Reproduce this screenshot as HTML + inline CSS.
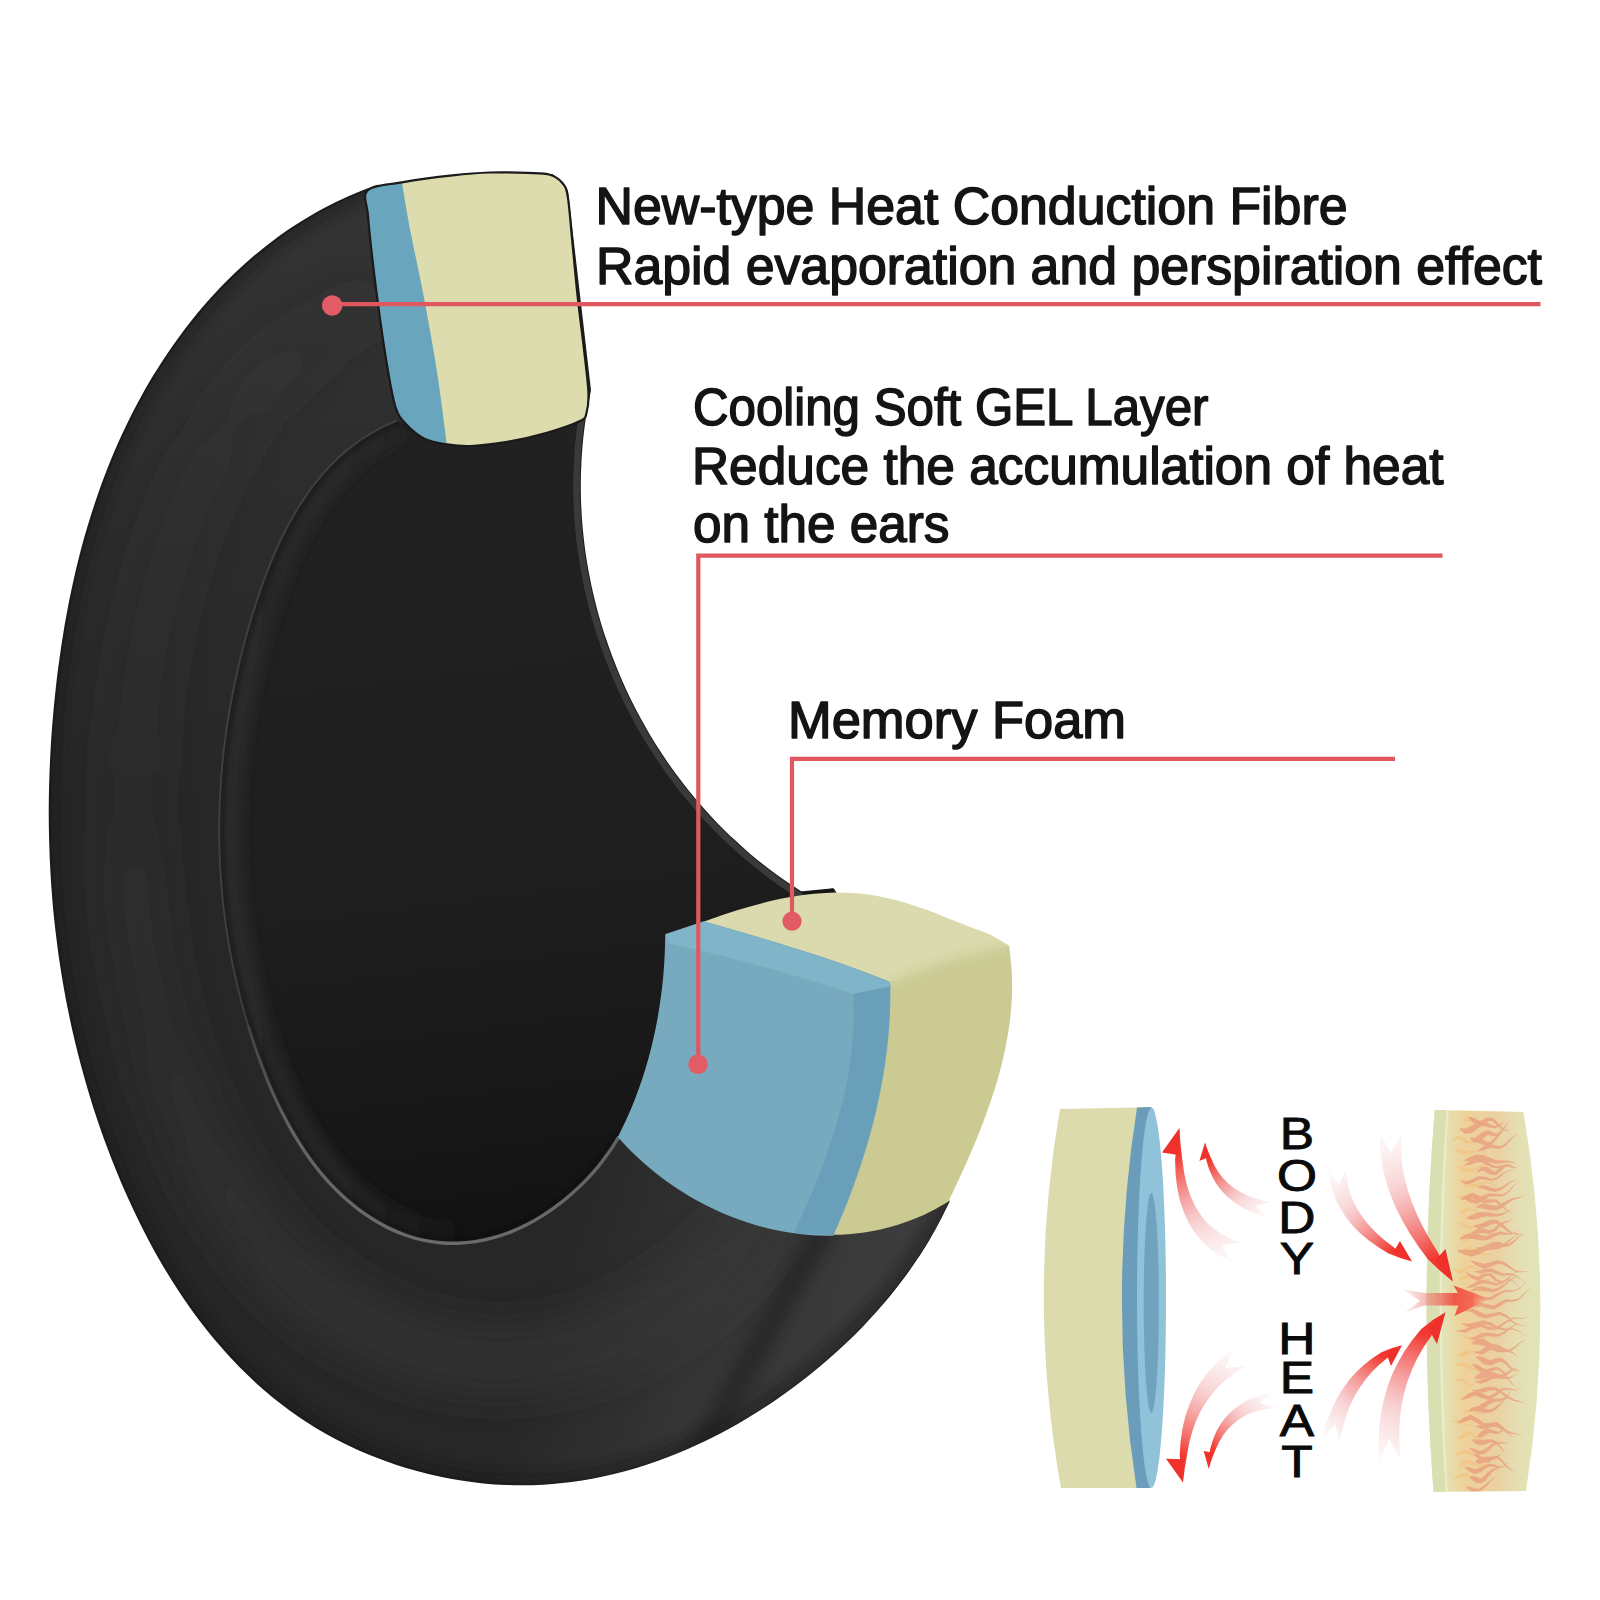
<!DOCTYPE html>
<html lang="en">
<head>
<meta charset="utf-8">
<title>Cooling gel ear pad layers</title>
<style>
html,body{margin:0;padding:0;background:#fff;}
body{width:1600px;height:1600px;overflow:hidden;position:relative;font-family:"Liberation Sans",sans-serif;}
svg{position:absolute;left:0;top:0;display:block;}
.lbl{font-family:"Liberation Sans",sans-serif;font-size:51px;fill:#141414;stroke:#141414;stroke-width:1.5px;stroke-linejoin:round;}
.vt{font-family:"Liberation Sans",sans-serif;font-size:44px;fill:#0a0a0a;stroke:#0a0a0a;stroke-width:0.9px;text-anchor:middle;}
.rl{fill:none;stroke:#e0575f;stroke-width:4.2;}
.rd{fill:#e25c66;}
</style>
</head>
<body>
<svg width="1600" height="1600" viewBox="0 0 1600 1600">
<defs>
  <clipPath id="cFull"><path d="M367.5 189.4C364.0 190.8 353.5 195.0 346.6 198.1C339.8 201.1 333.1 204.4 326.5 207.9C319.9 211.3 313.5 215.0 307.2 218.8C300.8 222.6 294.6 226.6 288.5 230.7C282.4 234.9 276.5 239.2 270.6 243.7C264.8 248.1 259.1 252.8 253.5 257.5C247.9 262.3 242.5 267.2 237.1 272.2C231.8 277.3 226.6 282.4 221.5 287.7C216.4 293.0 211.4 298.5 206.6 304.0C201.8 309.5 197.0 315.2 192.5 320.9C187.9 326.7 183.4 332.6 179.1 338.5C174.7 344.5 170.5 350.6 166.4 356.7C162.3 362.8 158.4 369.1 154.5 375.4C150.7 381.7 146.9 388.1 143.4 394.5C139.8 401.0 136.3 407.5 132.9 414.1C129.6 420.6 126.4 427.3 123.3 434.0C120.2 440.6 117.2 447.4 114.3 454.2C111.5 461.0 108.7 467.8 106.1 474.7C103.4 481.6 100.9 488.5 98.5 495.5C96.1 502.5 93.8 509.5 91.6 516.5C89.3 523.6 87.2 530.7 85.2 537.8C83.2 544.9 81.3 552.1 79.5 559.3C77.7 566.5 76.0 573.7 74.4 580.9C72.8 588.2 71.2 595.4 69.8 602.7C68.4 610.0 67.0 617.3 65.7 624.6C64.5 632.0 63.3 639.3 62.2 646.6C61.1 654.0 60.1 661.4 59.1 668.7C58.1 676.1 57.3 683.5 56.5 690.8C55.7 698.2 54.9 705.6 54.3 713.0C53.6 720.4 53.0 727.8 52.5 735.1C52.0 742.5 51.5 749.9 51.2 757.3C50.8 764.7 50.5 772.1 50.3 779.4C50.0 786.8 49.9 794.2 49.8 801.6C49.7 808.9 49.7 816.3 49.8 823.7C49.9 831.0 50.0 838.4 50.3 845.7C50.5 853.1 50.8 860.4 51.2 867.8C51.6 875.1 52.0 882.5 52.6 889.8C53.1 897.1 53.7 904.4 54.4 911.7C55.1 919.1 55.9 926.4 56.8 933.6C57.7 940.9 58.6 948.2 59.6 955.5C60.7 962.8 61.8 970.0 63.0 977.3C64.2 984.5 65.5 991.8 66.8 999.0C68.2 1006.2 69.7 1013.4 71.2 1020.6C72.7 1027.8 74.4 1035.0 76.1 1042.1C77.8 1049.3 79.6 1056.5 81.5 1063.6C83.4 1070.7 85.4 1077.9 87.5 1085.0C89.5 1092.1 91.7 1099.1 93.9 1106.2C96.2 1113.3 98.5 1120.3 101.0 1127.3C103.4 1134.4 105.9 1141.4 108.6 1148.4C111.2 1155.3 113.9 1162.3 116.7 1169.2C119.5 1176.2 122.4 1183.1 125.4 1189.9C128.5 1196.8 131.6 1203.6 134.8 1210.4C138.0 1217.2 141.3 1223.9 144.7 1230.6C148.1 1237.3 151.6 1243.9 155.2 1250.4C158.9 1256.9 162.6 1263.4 166.4 1269.8C170.3 1276.2 174.2 1282.5 178.3 1288.7C182.3 1294.9 186.5 1301.0 190.8 1307.1C195.1 1313.1 199.4 1319.0 204.0 1324.8C208.5 1330.6 213.1 1336.4 217.9 1341.9C222.6 1347.5 227.5 1353.0 232.5 1358.3C237.4 1363.6 242.6 1368.9 247.8 1373.9C253.0 1379.0 258.4 1383.9 263.9 1388.7C269.3 1393.4 275.0 1398.1 280.7 1402.5C286.4 1407.0 292.3 1411.3 298.3 1415.4C304.3 1419.5 310.5 1423.5 316.7 1427.3C323.0 1431.0 329.3 1434.6 335.8 1438.1C342.3 1441.5 348.9 1444.7 355.6 1447.8C362.3 1450.9 369.1 1453.7 375.9 1456.4C382.8 1459.1 389.7 1461.6 396.8 1464.0C403.8 1466.3 410.9 1468.4 418.0 1470.3C425.1 1472.3 432.3 1474.0 439.6 1475.5C446.8 1477.1 454.1 1478.4 461.4 1479.6C468.7 1480.7 476.0 1481.6 483.4 1482.4C490.7 1483.1 498.1 1483.6 505.5 1483.9C512.8 1484.3 520.2 1484.4 527.6 1484.3C534.9 1484.2 542.3 1483.8 549.6 1483.3C556.9 1482.8 564.3 1482.0 571.5 1481.1C578.8 1480.1 586.1 1478.9 593.3 1477.6C600.5 1476.2 607.7 1474.6 614.8 1472.9C622.0 1471.1 629.1 1469.2 636.1 1467.1C643.2 1464.9 650.2 1462.6 657.2 1460.1C664.1 1457.7 671.1 1455.0 677.9 1452.2C684.8 1449.4 691.6 1446.4 698.3 1443.2C705.1 1440.1 711.7 1436.8 718.4 1433.4C725.0 1429.9 731.5 1426.3 738.0 1422.6C744.5 1418.9 750.9 1415.0 757.2 1411.0C763.5 1407.0 769.8 1402.9 775.9 1398.6C782.1 1394.4 788.2 1390.0 794.2 1385.5C800.2 1381.1 806.1 1376.5 811.9 1371.8C817.7 1367.1 823.4 1362.3 829.0 1357.3C834.6 1352.4 840.1 1347.4 845.5 1342.3C850.9 1337.2 856.2 1332.0 861.3 1326.7C866.5 1321.3 871.5 1315.9 876.4 1310.4C881.3 1304.9 886.1 1299.3 890.7 1293.6C895.3 1287.9 899.8 1282.1 904.2 1276.2C908.5 1270.4 912.7 1264.4 916.7 1258.3C920.8 1252.3 924.6 1246.1 928.3 1239.9C932.0 1233.7 935.6 1227.3 938.9 1220.9C942.3 1214.5 946.9 1204.7 948.5 1201.5L889 985L833.4 889.4L803 893.7C799.9 891.7 790.5 885.7 784.4 881.4C778.3 877.2 772.3 872.8 766.5 868.3C760.6 863.8 754.9 859.1 749.3 854.4C743.6 849.6 738.2 844.7 732.8 839.6C727.4 834.6 722.2 829.4 717.0 824.1C711.9 818.9 706.9 813.4 702.1 807.9C697.2 802.4 692.5 796.8 687.9 791.1C683.3 785.4 678.8 779.5 674.5 773.6C670.1 767.7 665.9 761.6 661.9 755.5C657.8 749.4 653.9 743.2 650.1 736.9C646.3 730.6 642.7 724.2 639.2 717.8C635.7 711.3 632.3 704.8 629.1 698.2C625.9 691.6 622.9 684.9 620.0 678.1C617.0 671.4 614.3 664.6 611.7 657.7C609.1 650.8 606.6 643.9 604.3 636.9C602.0 630.0 599.9 622.9 597.9 615.9C595.9 608.8 594.1 601.7 592.4 594.5C590.7 587.3 589.2 580.1 587.9 572.9C586.5 565.7 585.4 558.4 584.3 551.1C583.3 543.9 582.5 536.5 581.8 529.2C581.1 521.9 580.6 514.5 580.3 507.2C579.9 499.8 579.8 492.4 579.8 485.1C579.8 477.7 580.0 470.3 580.4 462.9C580.7 455.5 581.3 448.2 582.0 440.8C582.7 433.4 584.2 422.4 584.7 418.7L590 390L567 191L552 175Z"/></clipPath>
  <clipPath id="cTop"><path d="M367.7 190.3C373.3 184.8 387.8 184.8 401.9 182.3C416.0 179.8 437.8 176.9 452.5 175.3C467.2 173.7 477.5 172.9 490.0 172.5C502.5 172.1 517.5 172.5 527.5 172.9C537.5 173.3 544.2 173.0 550.0 174.7C555.8 176.3 559.2 179.1 562.2 182.8C565.2 186.5 566.1 186.8 567.8 196.9C569.5 207.1 570.8 226.5 572.5 243.7C574.2 260.9 576.1 282.8 578.0 300.0C579.9 317.2 582.0 331.6 583.7 346.9C585.4 362.2 587.9 381.0 588.4 391.9C588.9 402.8 588.0 407.6 586.6 412.5C585.2 417.4 586.8 417.6 580.0 421.0C573.2 424.4 557.9 429.6 546.0 433.0C534.1 436.4 521.2 439.4 508.7 441.6C496.2 443.8 481.3 445.5 471.0 446.0C460.7 446.5 454.7 445.6 446.9 444.4C439.1 443.2 431.3 442.1 424.4 438.7C417.5 435.2 410.3 428.7 405.6 423.7C400.9 418.7 398.8 416.8 396.0 408.7C393.2 400.6 391.4 390.0 388.7 375.0C386.0 360.0 382.6 337.4 380.0 318.7C377.4 299.9 374.8 279.7 372.8 262.5C370.8 245.3 368.9 227.6 368.0 215.6C367.1 203.6 362.1 195.9 367.7 190.3Z"/></clipPath>
  <clipPath id="cCup"><path d="M618.7 1137.0C617.1 1139.5 612.6 1147.0 609.2 1151.8C605.8 1156.7 602.2 1161.6 598.3 1166.3C594.4 1171.0 590.3 1175.6 586.0 1180.1C581.7 1184.5 577.2 1188.9 572.5 1193.0C567.9 1197.2 563.0 1201.2 558.0 1204.9C553.0 1208.7 547.9 1212.3 542.6 1215.6C537.4 1218.9 532.0 1222.0 526.5 1224.8C521.0 1227.6 515.4 1230.1 509.8 1232.3C504.1 1234.5 498.4 1236.4 492.6 1237.9C486.9 1239.5 481.0 1240.7 475.2 1241.6C469.4 1242.4 463.5 1243.0 457.7 1243.2C451.9 1243.4 446.1 1243.2 440.3 1242.7C434.6 1242.2 428.9 1241.4 423.2 1240.2C417.6 1239.0 412.0 1237.4 406.6 1235.5C401.1 1233.6 395.7 1231.4 390.4 1228.9C385.2 1226.4 380.0 1223.5 374.9 1220.5C369.9 1217.4 365.0 1214.1 360.2 1210.6C355.4 1207.0 350.7 1203.2 346.2 1199.3C341.7 1195.3 337.4 1191.1 333.2 1186.8C329.0 1182.5 325.0 1177.9 321.1 1173.3C317.2 1168.7 313.5 1163.9 310.0 1159.0C306.4 1154.1 303.0 1149.0 299.8 1143.9C296.5 1138.7 293.4 1133.5 290.4 1128.1C287.4 1122.8 284.5 1117.3 281.7 1111.8C279.0 1106.3 276.4 1100.7 273.8 1095.1C271.3 1089.4 268.9 1083.7 266.6 1078.0C264.3 1072.3 262.1 1066.5 260.0 1060.7C257.8 1054.9 255.8 1049.1 253.9 1043.3C251.9 1037.5 250.0 1031.6 248.3 1025.8C246.5 1020.0 244.8 1014.1 243.2 1008.3C241.5 1002.4 240.0 996.5 238.6 990.6C237.1 984.8 235.8 978.9 234.5 973.0C233.2 967.1 232.0 961.2 230.9 955.3C229.8 949.4 228.7 943.5 227.8 937.5C226.8 931.6 225.9 925.7 225.2 919.8C224.4 913.8 223.6 907.9 223.0 902.0C222.4 896.0 221.8 890.1 221.4 884.1C220.9 878.2 220.5 872.2 220.2 866.3C219.9 860.3 219.6 854.4 219.5 848.4C219.3 842.4 219.2 836.5 219.2 830.5C219.2 824.5 219.3 818.6 219.5 812.6C219.6 806.7 219.9 800.7 220.2 794.7C220.5 788.8 220.9 782.8 221.3 776.8C221.8 770.9 222.3 764.9 222.9 759.0C223.5 753.0 224.2 747.0 225.0 741.1C225.8 735.1 226.6 729.2 227.5 723.2C228.4 717.3 229.4 711.4 230.5 705.4C231.5 699.5 232.7 693.6 233.9 687.6C235.1 681.7 236.4 675.8 237.7 669.9C239.1 664.0 240.5 658.0 242.0 652.1C243.5 646.2 245.1 640.4 246.7 634.5C248.3 628.6 250.1 622.7 251.8 616.8C253.6 611.0 255.5 605.1 257.4 599.3C259.3 593.4 261.3 587.6 263.4 581.8C265.5 576.0 267.7 570.3 270.0 564.6C272.3 558.9 274.7 553.3 277.2 547.7C279.7 542.2 282.3 536.7 285.1 531.3C287.8 525.9 290.7 520.6 293.7 515.4C296.7 510.2 299.8 505.1 303.1 500.2C306.3 495.2 309.7 490.4 313.3 485.7C316.9 481.0 320.6 476.5 324.5 472.1C328.4 467.7 332.5 463.5 336.7 459.5C341.0 455.4 345.4 451.5 350.0 447.9C354.7 444.2 359.5 440.7 364.5 437.5C369.5 434.2 374.7 431.2 380.1 428.3C385.5 425.5 394.2 421.9 397.0 420.6L446 444L580 421L584.7 418.7C584.2 422.4 582.7 433.4 582.0 440.8C581.3 448.2 580.7 455.5 580.4 462.9C580.0 470.3 579.8 477.7 579.8 485.1C579.8 492.4 579.9 499.8 580.3 507.2C580.6 514.5 581.1 521.9 581.8 529.2C582.5 536.5 583.3 543.9 584.3 551.1C585.4 558.4 586.5 565.7 587.9 572.9C589.2 580.1 590.7 587.3 592.4 594.5C594.1 601.7 595.9 608.8 597.9 615.9C599.9 622.9 602.0 630.0 604.3 636.9C606.6 643.9 609.1 650.8 611.7 657.7C614.3 664.6 617.0 671.4 620.0 678.1C622.9 684.9 625.9 691.6 629.1 698.2C632.3 704.8 635.7 711.3 639.2 717.8C642.7 724.2 646.3 730.6 650.1 736.9C653.9 743.2 657.8 749.4 661.9 755.5C665.9 761.6 670.1 767.7 674.5 773.6C678.8 779.5 683.3 785.4 687.9 791.1C692.5 796.8 697.2 802.4 702.1 807.9C706.9 813.4 711.9 818.9 717.0 824.1C722.2 829.4 727.4 834.6 732.8 839.6C738.2 844.7 743.6 849.6 749.3 854.4C754.9 859.1 760.6 863.8 766.5 868.3C772.3 872.8 778.3 877.2 784.4 881.4C790.5 885.7 799.9 891.7 803.0 893.7L833.4 889.4L704 921.7L666 934.4C665.9 937.9 665.8 948.4 665.4 955.4C665.1 962.3 664.6 969.3 664.0 976.3C663.4 983.3 662.6 990.2 661.6 997.2C660.7 1004.1 659.6 1011.0 658.4 1017.9C657.2 1024.8 655.8 1031.7 654.2 1038.5C652.7 1045.3 651.0 1052.1 649.1 1058.9C647.2 1065.6 645.2 1072.3 643.0 1079.0C640.8 1085.6 638.4 1092.2 635.9 1098.7C633.4 1105.2 630.7 1111.7 627.8 1118.1C624.9 1124.5 620.2 1133.8 618.7 1137.0Z"/></clipPath>
  <linearGradient id="gCup" gradientUnits="userSpaceOnUse" x1="420" y1="450" x2="520" y2="1240">
    <stop offset="0" stop-color="#212121"/>
    <stop offset="0.55" stop-color="#1e1e1e"/>
    <stop offset="0.85" stop-color="#171717"/>
    <stop offset="1" stop-color="#121212"/>
  </linearGradient>
  <linearGradient id="gPad" gradientUnits="userSpaceOnUse" x1="260" y1="200" x2="200" y2="1450">
    <stop offset="0" stop-color="#343434"/>
    <stop offset="0.25" stop-color="#2c2c2c"/>
    <stop offset="0.5" stop-color="#272727"/>
    <stop offset="1" stop-color="#272727"/>
  </linearGradient>
  <linearGradient id="gLow" gradientUnits="userSpaceOnUse" x1="560" y1="1230" x2="900" y2="1330">
    <stop offset="0" stop-color="#333" stop-opacity="0"/>
    <stop offset="0.45" stop-color="#363636" stop-opacity="0.9"/>
    <stop offset="1" stop-color="#3d3d3d" stop-opacity="1"/>
  </linearGradient>
  <linearGradient id="gCrease" gradientUnits="userSpaceOnUse" x1="0" y1="1250" x2="0" y2="980">
    <stop offset="0" stop-color="#6e6e6e" stop-opacity="0.95"/>
    <stop offset="0.45" stop-color="#6a6a6a" stop-opacity="0.85"/>
    <stop offset="1" stop-color="#555" stop-opacity="0"/>
  </linearGradient>
  <linearGradient id="gBand" gradientUnits="userSpaceOnUse" x1="220" y1="0" x2="470" y2="0">
    <stop offset="0" stop-color="#2b2b2b" stop-opacity="0.8"/>
    <stop offset="0.5" stop-color="#2b2b2b" stop-opacity="0.6"/>
    <stop offset="1" stop-color="#2b2b2b" stop-opacity="0"/>
  </linearGradient>
  <clipPath id="cCream"><path d="M704.0 921.7C707.6 920.4 718.3 916.5 725.5 914.0C732.7 911.6 740.0 909.3 747.4 907.2C754.7 905.1 762.1 903.1 769.5 901.3C776.9 899.6 784.3 898.1 791.7 896.8C799.2 895.5 806.7 894.5 814.2 893.8C821.6 893.1 829.1 892.7 836.6 892.6C844.1 892.6 851.6 892.8 859.1 893.5C866.6 894.2 874.0 895.3 881.5 896.7C888.9 898.2 896.3 900.1 903.7 902.3C911.1 904.4 918.4 907.0 925.7 909.6C933.0 912.2 940.2 915.1 947.4 917.9C954.6 920.7 961.7 923.7 968.8 926.4C975.8 929.2 983.0 931.2 989.7 934.4C996.4 937.6 1005.8 943.7 1009.0 945.6C1000.8 947.5 974.8 952.9 960.0 957.0C945.2 961.1 931.7 965.8 920.0 970.0C908.3 974.2 894.8 980.0 889.7 982.0C879.8 978.3 851.6 967.3 830.0 960.0C808.4 952.7 781.0 944.4 760.0 938.0C739.0 931.6 713.3 924.4 704.0 921.7Z"/><path d="M889.7 982.0C894.8 980.0 908.3 974.2 920.0 970.0C931.7 965.8 945.2 961.1 960.0 957.0C974.8 952.9 1000.8 947.5 1009.0 945.6C1009.5 950.0 1011.3 963.4 1011.8 972.2C1012.3 981.1 1012.2 990.0 1011.8 998.8C1011.4 1007.6 1010.5 1016.4 1009.3 1025.2C1008.1 1034.0 1006.5 1042.7 1004.7 1051.4C1002.8 1060.1 1000.6 1068.8 998.2 1077.4C995.8 1086.0 993.0 1094.6 990.1 1103.1C987.2 1111.6 984.1 1120.0 980.8 1128.4C977.6 1136.7 974.1 1145.0 970.6 1153.2C967.1 1161.5 963.4 1169.6 959.7 1177.6C956.0 1185.7 950.4 1197.5 948.5 1201.5C945.8 1203.1 937.6 1208.0 932.1 1210.8C926.6 1213.7 920.9 1216.3 915.3 1218.6C909.6 1220.9 903.8 1223.0 898.0 1224.8C892.2 1226.6 886.4 1228.2 880.5 1229.5C874.6 1230.9 868.7 1231.9 862.8 1232.8C856.8 1233.6 849.9 1234.2 844.9 1234.6C839.9 1235.0 835.0 1234.9 833.0 1235.0C834.7 1231.1 839.9 1219.3 843.1 1211.3C846.4 1203.4 849.5 1195.3 852.4 1187.2C855.4 1179.2 858.3 1171.0 860.9 1162.8C863.6 1154.6 866.1 1146.3 868.5 1138.0C870.8 1129.7 873.0 1121.4 875.0 1113.0C877.0 1104.6 878.8 1096.2 880.4 1087.7C882.0 1079.3 883.5 1070.8 884.7 1062.2C885.9 1053.7 886.9 1045.2 887.7 1036.6C888.5 1028.0 889.1 1019.4 889.4 1010.8C889.7 1002.2 889.7 989.3 889.7 985.0Z"/></clipPath>
  <filter id="b3" x="-20%" y="-20%" width="140%" height="140%"><feGaussianBlur stdDeviation="3.5"/></filter>
  <filter id="b2" x="-20%" y="-20%" width="140%" height="140%"><feGaussianBlur stdDeviation="2"/></filter>
  <filter id="b6" x="-20%" y="-20%" width="140%" height="140%"><feGaussianBlur stdDeviation="6"/></filter>
  <filter id="b20" x="-30%" y="-30%" width="160%" height="160%"><feGaussianBlur stdDeviation="20"/></filter>
  <linearGradient id="gMid" gradientUnits="userSpaceOnUse" x1="0" y1="300" x2="0" y2="1450">
    <stop offset="0" stop-color="#363636" stop-opacity="0.15"/>
    <stop offset="0.6" stop-color="#363636" stop-opacity="0.3"/>
    <stop offset="0.85" stop-color="#363636" stop-opacity="0.6"/>
    <stop offset="1" stop-color="#363636" stop-opacity="0.6"/>
  </linearGradient>
  <filter id="b14" x="-30%" y="-30%" width="160%" height="160%"><feGaussianBlur stdDeviation="14"/></filter>
</defs>

<!-- ear pad -->
<path d="M367.5 189.4C364.0 190.8 353.5 195.0 346.6 198.1C339.8 201.1 333.1 204.4 326.5 207.9C319.9 211.3 313.5 215.0 307.2 218.8C300.8 222.6 294.6 226.6 288.5 230.7C282.4 234.9 276.5 239.2 270.6 243.7C264.8 248.1 259.1 252.8 253.5 257.5C247.9 262.3 242.5 267.2 237.1 272.2C231.8 277.3 226.6 282.4 221.5 287.7C216.4 293.0 211.4 298.5 206.6 304.0C201.8 309.5 197.0 315.2 192.5 320.9C187.9 326.7 183.4 332.6 179.1 338.5C174.7 344.5 170.5 350.6 166.4 356.7C162.3 362.8 158.4 369.1 154.5 375.4C150.7 381.7 146.9 388.1 143.4 394.5C139.8 401.0 136.3 407.5 132.9 414.1C129.6 420.6 126.4 427.3 123.3 434.0C120.2 440.6 117.2 447.4 114.3 454.2C111.5 461.0 108.7 467.8 106.1 474.7C103.4 481.6 100.9 488.5 98.5 495.5C96.1 502.5 93.8 509.5 91.6 516.5C89.3 523.6 87.2 530.7 85.2 537.8C83.2 544.9 81.3 552.1 79.5 559.3C77.7 566.5 76.0 573.7 74.4 580.9C72.8 588.2 71.2 595.4 69.8 602.7C68.4 610.0 67.0 617.3 65.7 624.6C64.5 632.0 63.3 639.3 62.2 646.6C61.1 654.0 60.1 661.4 59.1 668.7C58.1 676.1 57.3 683.5 56.5 690.8C55.7 698.2 54.9 705.6 54.3 713.0C53.6 720.4 53.0 727.8 52.5 735.1C52.0 742.5 51.5 749.9 51.2 757.3C50.8 764.7 50.5 772.1 50.3 779.4C50.0 786.8 49.9 794.2 49.8 801.6C49.7 808.9 49.7 816.3 49.8 823.7C49.9 831.0 50.0 838.4 50.3 845.7C50.5 853.1 50.8 860.4 51.2 867.8C51.6 875.1 52.0 882.5 52.6 889.8C53.1 897.1 53.7 904.4 54.4 911.7C55.1 919.1 55.9 926.4 56.8 933.6C57.7 940.9 58.6 948.2 59.6 955.5C60.7 962.8 61.8 970.0 63.0 977.3C64.2 984.5 65.5 991.8 66.8 999.0C68.2 1006.2 69.7 1013.4 71.2 1020.6C72.7 1027.8 74.4 1035.0 76.1 1042.1C77.8 1049.3 79.6 1056.5 81.5 1063.6C83.4 1070.7 85.4 1077.9 87.5 1085.0C89.5 1092.1 91.7 1099.1 93.9 1106.2C96.2 1113.3 98.5 1120.3 101.0 1127.3C103.4 1134.4 105.9 1141.4 108.6 1148.4C111.2 1155.3 113.9 1162.3 116.7 1169.2C119.5 1176.2 122.4 1183.1 125.4 1189.9C128.5 1196.8 131.6 1203.6 134.8 1210.4C138.0 1217.2 141.3 1223.9 144.7 1230.6C148.1 1237.3 151.6 1243.9 155.2 1250.4C158.9 1256.9 162.6 1263.4 166.4 1269.8C170.3 1276.2 174.2 1282.5 178.3 1288.7C182.3 1294.9 186.5 1301.0 190.8 1307.1C195.1 1313.1 199.4 1319.0 204.0 1324.8C208.5 1330.6 213.1 1336.4 217.9 1341.9C222.6 1347.5 227.5 1353.0 232.5 1358.3C237.4 1363.6 242.6 1368.9 247.8 1373.9C253.0 1379.0 258.4 1383.9 263.9 1388.7C269.3 1393.4 275.0 1398.1 280.7 1402.5C286.4 1407.0 292.3 1411.3 298.3 1415.4C304.3 1419.5 310.5 1423.5 316.7 1427.3C323.0 1431.0 329.3 1434.6 335.8 1438.1C342.3 1441.5 348.9 1444.7 355.6 1447.8C362.3 1450.9 369.1 1453.7 375.9 1456.4C382.8 1459.1 389.7 1461.6 396.8 1464.0C403.8 1466.3 410.9 1468.4 418.0 1470.3C425.1 1472.3 432.3 1474.0 439.6 1475.5C446.8 1477.1 454.1 1478.4 461.4 1479.6C468.7 1480.7 476.0 1481.6 483.4 1482.4C490.7 1483.1 498.1 1483.6 505.5 1483.9C512.8 1484.3 520.2 1484.4 527.6 1484.3C534.9 1484.2 542.3 1483.8 549.6 1483.3C556.9 1482.8 564.3 1482.0 571.5 1481.1C578.8 1480.1 586.1 1478.9 593.3 1477.6C600.5 1476.2 607.7 1474.6 614.8 1472.9C622.0 1471.1 629.1 1469.2 636.1 1467.1C643.2 1464.9 650.2 1462.6 657.2 1460.1C664.1 1457.7 671.1 1455.0 677.9 1452.2C684.8 1449.4 691.6 1446.4 698.3 1443.2C705.1 1440.1 711.7 1436.8 718.4 1433.4C725.0 1429.9 731.5 1426.3 738.0 1422.6C744.5 1418.9 750.9 1415.0 757.2 1411.0C763.5 1407.0 769.8 1402.9 775.9 1398.6C782.1 1394.4 788.2 1390.0 794.2 1385.5C800.2 1381.1 806.1 1376.5 811.9 1371.8C817.7 1367.1 823.4 1362.3 829.0 1357.3C834.6 1352.4 840.1 1347.4 845.5 1342.3C850.9 1337.2 856.2 1332.0 861.3 1326.7C866.5 1321.3 871.5 1315.9 876.4 1310.4C881.3 1304.9 886.1 1299.3 890.7 1293.6C895.3 1287.9 899.8 1282.1 904.2 1276.2C908.5 1270.4 912.7 1264.4 916.7 1258.3C920.8 1252.3 924.6 1246.1 928.3 1239.9C932.0 1233.7 935.6 1227.3 938.9 1220.9C942.3 1214.5 946.9 1204.7 948.5 1201.5L889 985L833.4 889.4L803 893.7C799.9 891.7 790.5 885.7 784.4 881.4C778.3 877.2 772.3 872.8 766.5 868.3C760.6 863.8 754.9 859.1 749.3 854.4C743.6 849.6 738.2 844.7 732.8 839.6C727.4 834.6 722.2 829.4 717.0 824.1C711.9 818.9 706.9 813.4 702.1 807.9C697.2 802.4 692.5 796.8 687.9 791.1C683.3 785.4 678.8 779.5 674.5 773.6C670.1 767.7 665.9 761.6 661.9 755.5C657.8 749.4 653.9 743.2 650.1 736.9C646.3 730.6 642.7 724.2 639.2 717.8C635.7 711.3 632.3 704.8 629.1 698.2C625.9 691.6 622.9 684.9 620.0 678.1C617.0 671.4 614.3 664.6 611.7 657.7C609.1 650.8 606.6 643.9 604.3 636.9C602.0 630.0 599.9 622.9 597.9 615.9C595.9 608.8 594.1 601.7 592.4 594.5C590.7 587.3 589.2 580.1 587.9 572.9C586.5 565.7 585.4 558.4 584.3 551.1C583.3 543.9 582.5 536.5 581.8 529.2C581.1 521.9 580.6 514.5 580.3 507.2C579.9 499.8 579.8 492.4 579.8 485.1C579.8 477.7 580.0 470.3 580.4 462.9C580.7 455.5 581.3 448.2 582.0 440.8C582.7 433.4 584.2 422.4 584.7 418.7L590 390L567 191L552 175Z" fill="url(#gPad)" stroke="#1d1d1d" stroke-width="2" stroke-linejoin="round"/>
<g clip-path="url(#cFull)">
  <path d="M948.5 1201.5C945.8 1203.1 937.6 1208.0 932.1 1210.8C926.6 1213.7 920.9 1216.3 915.3 1218.6C909.6 1220.9 903.8 1223.0 898.0 1224.8C892.2 1226.6 886.4 1228.2 880.5 1229.5C874.6 1230.9 868.7 1231.9 862.8 1232.8C856.8 1233.6 850.9 1234.2 844.9 1234.6C838.9 1235.0 832.9 1235.2 826.9 1235.1C820.9 1235.0 814.9 1234.7 808.9 1234.2C803.0 1233.7 797.0 1233.0 791.0 1232.1C785.1 1231.2 779.1 1230.1 773.2 1228.7C767.3 1227.4 761.5 1225.9 755.7 1224.2C749.9 1222.5 744.1 1220.6 738.4 1218.5C732.7 1216.4 727.0 1214.1 721.4 1211.7C715.8 1209.2 710.3 1206.6 704.9 1203.8C699.5 1201.0 694.1 1198.1 688.9 1195.0C683.6 1191.8 678.5 1188.6 673.4 1185.1C668.4 1181.7 663.4 1178.1 658.6 1174.4C653.8 1170.6 649.1 1166.7 644.5 1162.7C639.9 1158.7 635.5 1154.5 631.2 1150.3C626.9 1146.0 620.8 1139.2 618.7 1137.0C617.1 1139.5 612.6 1147.0 609.2 1151.8C605.8 1156.7 602.2 1161.6 598.3 1166.3C594.4 1171.0 590.3 1175.6 586.0 1180.1C581.7 1184.5 577.2 1188.9 572.5 1193.0C567.9 1197.2 563.0 1201.2 558.0 1204.9C553.0 1208.7 547.9 1212.3 542.6 1215.6C537.4 1218.9 529.2 1223.2 526.5 1224.8L300 1600L1100 1600Z" fill="url(#gLow)"/>
  <path d="M381.7 300.4C375.1 303.6 354.8 312.2 342.2 319.5C329.5 326.8 317.3 335.1 305.9 344.2C294.5 353.2 283.7 363.3 273.6 373.8C263.4 384.3 254.0 395.6 245.2 407.3C236.5 419.0 228.4 431.3 220.9 443.8C213.4 456.4 206.6 469.3 200.2 482.5C193.9 495.7 188.2 509.2 182.9 522.9C177.6 536.5 173.0 550.4 168.6 564.4C164.3 578.4 160.5 592.5 157.0 606.8C153.5 621.0 150.5 635.3 147.8 649.7C145.1 664.1 142.8 678.5 140.8 693.0C138.8 707.5 137.2 722.1 135.9 736.6C134.6 751.2 133.6 765.8 132.9 780.4C132.3 795.0 132.1 809.7 132.2 824.3C132.4 838.9 132.8 853.5 133.7 868.1C134.5 882.7 135.8 897.3 137.4 911.8C139.1 926.3 141.1 940.8 143.6 955.2C146.0 969.6 148.9 984.0 152.1 998.2C155.4 1012.4 159.0 1026.6 163.1 1040.6C167.1 1054.6 171.5 1068.5 176.4 1082.2C181.3 1096.0 186.6 1109.6 192.4 1122.9C198.1 1136.3 204.3 1149.5 211.1 1162.4C217.8 1175.2 225.0 1187.9 232.7 1200.1C240.5 1212.3 248.8 1224.2 257.6 1235.5C266.5 1246.7 276.0 1257.6 286.1 1267.7C296.2 1277.8 306.8 1287.4 318.0 1296.1C329.2 1304.8 341.1 1312.7 353.2 1319.8C365.4 1326.9 378.1 1333.3 391.1 1338.7C404.1 1344.2 417.5 1348.8 431.1 1352.3C444.7 1355.8 458.8 1358.4 472.8 1359.8C486.8 1361.2 501.1 1361.5 515.3 1360.7C529.4 1359.8 543.7 1357.8 557.7 1354.8C571.6 1351.8 585.6 1347.6 599.1 1342.5C612.6 1337.4 625.8 1331.1 638.6 1324.2C651.4 1317.4 663.8 1309.5 675.7 1301.2C687.6 1292.8 699.1 1283.6 710.0 1273.9C720.8 1264.2 731.2 1253.7 740.9 1242.8C750.5 1231.9 759.6 1220.3 767.8 1208.3C776.1 1196.2 786.5 1176.8 790.2 1170.5" fill="none" stroke="url(#gMid)" stroke-width="64" filter="url(#b20)"/>
  <path d="M850 1180L690 1470" fill="none" stroke="#1c1c1c" stroke-width="24" opacity="0.5" filter="url(#b6)"/>
  <path d="M367.5 189.4C364.0 190.8 353.5 195.0 346.6 198.1C339.8 201.1 333.1 204.4 326.5 207.9C319.9 211.3 313.5 215.0 307.2 218.8C300.8 222.6 294.6 226.6 288.5 230.7C282.4 234.9 276.5 239.2 270.6 243.7C264.8 248.1 259.1 252.8 253.5 257.5C247.9 262.3 242.5 267.2 237.1 272.2C231.8 277.3 226.6 282.4 221.5 287.7C216.4 293.0 211.4 298.5 206.6 304.0C201.8 309.5 197.0 315.2 192.5 320.9C187.9 326.7 183.4 332.6 179.1 338.5C174.7 344.5 170.5 350.6 166.4 356.7C162.3 362.8 158.4 369.1 154.5 375.4C150.7 381.7 146.9 388.1 143.4 394.5C139.8 401.0 136.3 407.5 132.9 414.1C129.6 420.6 126.4 427.3 123.3 434.0C120.2 440.6 117.2 447.4 114.3 454.2C111.5 461.0 108.7 467.8 106.1 474.7C103.4 481.6 100.9 488.5 98.5 495.5C96.1 502.5 93.8 509.5 91.6 516.5C89.3 523.6 87.2 530.7 85.2 537.8C83.2 544.9 81.3 552.1 79.5 559.3C77.7 566.5 76.0 573.7 74.4 580.9C72.8 588.2 71.2 595.4 69.8 602.7C68.4 610.0 67.0 617.3 65.7 624.6C64.5 632.0 63.3 639.3 62.2 646.6C61.1 654.0 60.1 661.4 59.1 668.7C58.1 676.1 57.3 683.5 56.5 690.8C55.7 698.2 54.9 705.6 54.3 713.0C53.6 720.4 53.0 727.8 52.5 735.1C52.0 742.5 51.5 749.9 51.2 757.3C50.8 764.7 50.5 772.1 50.3 779.4C50.0 786.8 49.9 794.2 49.8 801.6C49.7 808.9 49.7 816.3 49.8 823.7C49.9 831.0 50.0 838.4 50.3 845.7C50.5 853.1 50.8 860.4 51.2 867.8C51.6 875.1 52.0 882.5 52.6 889.8C53.1 897.1 53.7 904.4 54.4 911.7C55.1 919.1 55.9 926.4 56.8 933.6C57.7 940.9 58.6 948.2 59.6 955.5C60.7 962.8 61.8 970.0 63.0 977.3C64.2 984.5 65.5 991.8 66.8 999.0C68.2 1006.2 69.7 1013.4 71.2 1020.6C72.7 1027.8 74.4 1035.0 76.1 1042.1C77.8 1049.3 79.6 1056.5 81.5 1063.6C83.4 1070.7 85.4 1077.9 87.5 1085.0C89.5 1092.1 91.7 1099.1 93.9 1106.2C96.2 1113.3 98.5 1120.3 101.0 1127.3C103.4 1134.4 105.9 1141.4 108.6 1148.4C111.2 1155.3 113.9 1162.3 116.7 1169.2C119.5 1176.2 122.4 1183.1 125.4 1189.9C128.5 1196.8 131.6 1203.6 134.8 1210.4C138.0 1217.2 141.3 1223.9 144.7 1230.6C148.1 1237.3 151.6 1243.9 155.2 1250.4C158.9 1256.9 162.6 1263.4 166.4 1269.8C170.3 1276.2 174.2 1282.5 178.3 1288.7C182.3 1294.9 186.5 1301.0 190.8 1307.1C195.1 1313.1 199.4 1319.0 204.0 1324.8C208.5 1330.6 213.1 1336.4 217.9 1341.9C222.6 1347.5 227.5 1353.0 232.5 1358.3C237.4 1363.6 242.6 1368.9 247.8 1373.9C253.0 1379.0 258.4 1383.9 263.9 1388.7C269.3 1393.4 275.0 1398.1 280.7 1402.5C286.4 1407.0 292.3 1411.3 298.3 1415.4C304.3 1419.5 310.5 1423.5 316.7 1427.3C323.0 1431.0 329.3 1434.6 335.8 1438.1C342.3 1441.5 348.9 1444.7 355.6 1447.8C362.3 1450.9 369.1 1453.7 375.9 1456.4C382.8 1459.1 389.7 1461.6 396.8 1464.0C403.8 1466.3 410.9 1468.4 418.0 1470.3C425.1 1472.3 432.3 1474.0 439.6 1475.5C446.8 1477.1 454.1 1478.4 461.4 1479.6C468.7 1480.7 476.0 1481.6 483.4 1482.4C490.7 1483.1 498.1 1483.6 505.5 1483.9C512.8 1484.3 520.2 1484.4 527.6 1484.3C534.9 1484.2 542.3 1483.8 549.6 1483.3C556.9 1482.8 564.3 1482.0 571.5 1481.1C578.8 1480.1 586.1 1478.9 593.3 1477.6C600.5 1476.2 607.7 1474.6 614.8 1472.9C622.0 1471.1 629.1 1469.2 636.1 1467.1C643.2 1464.9 650.2 1462.6 657.2 1460.1C664.1 1457.7 671.1 1455.0 677.9 1452.2C684.8 1449.4 691.6 1446.4 698.3 1443.2C705.1 1440.1 711.7 1436.8 718.4 1433.4C725.0 1429.9 731.5 1426.3 738.0 1422.6C744.5 1418.9 750.9 1415.0 757.2 1411.0C763.5 1407.0 769.8 1402.9 775.9 1398.6C782.1 1394.4 788.2 1390.0 794.2 1385.5C800.2 1381.1 806.1 1376.5 811.9 1371.8C817.7 1367.1 823.4 1362.3 829.0 1357.3C834.6 1352.4 840.1 1347.4 845.5 1342.3C850.9 1337.2 856.2 1332.0 861.3 1326.7C866.5 1321.3 871.5 1315.9 876.4 1310.4C881.3 1304.9 886.1 1299.3 890.7 1293.6C895.3 1287.9 899.8 1282.1 904.2 1276.2C908.5 1270.4 912.7 1264.4 916.7 1258.3C920.8 1252.3 924.6 1246.1 928.3 1239.9C932.0 1233.7 935.6 1227.3 938.9 1220.9C942.3 1214.5 946.9 1204.7 948.5 1201.5" fill="none" stroke="#181818" stroke-width="22" opacity="0.4" filter="url(#b6)"/>
  <path d="M618.7 1137.0C617.1 1139.5 612.6 1147.0 609.2 1151.8C605.8 1156.7 602.2 1161.6 598.3 1166.3C594.4 1171.0 590.3 1175.6 586.0 1180.1C581.7 1184.5 577.2 1188.9 572.5 1193.0C567.9 1197.2 563.0 1201.2 558.0 1204.9C553.0 1208.7 547.9 1212.3 542.6 1215.6C537.4 1218.9 532.0 1222.0 526.5 1224.8C521.0 1227.6 515.4 1230.1 509.8 1232.3C504.1 1234.5 498.4 1236.4 492.6 1237.9C486.9 1239.5 481.0 1240.7 475.2 1241.6C469.4 1242.4 463.5 1243.0 457.7 1243.2C451.9 1243.4 446.1 1243.2 440.3 1242.7C434.6 1242.2 428.9 1241.4 423.2 1240.2C417.6 1239.0 412.0 1237.4 406.6 1235.5C401.1 1233.6 395.7 1231.4 390.4 1228.9C385.2 1226.4 380.0 1223.5 374.9 1220.5C369.9 1217.4 365.0 1214.1 360.2 1210.6C355.4 1207.0 350.7 1203.2 346.2 1199.3C341.7 1195.3 337.4 1191.1 333.2 1186.8C329.0 1182.5 325.0 1177.9 321.1 1173.3C317.2 1168.7 313.5 1163.9 310.0 1159.0C306.4 1154.1 303.0 1149.0 299.8 1143.9C296.5 1138.7 293.4 1133.5 290.4 1128.1C287.4 1122.8 284.5 1117.3 281.7 1111.8C279.0 1106.3 276.4 1100.7 273.8 1095.1C271.3 1089.4 268.9 1083.7 266.6 1078.0C264.3 1072.3 262.1 1066.5 260.0 1060.7C257.8 1054.9 255.8 1049.1 253.9 1043.3C251.9 1037.5 250.0 1031.6 248.3 1025.8C246.5 1020.0 244.8 1014.1 243.2 1008.3C241.5 1002.4 240.0 996.5 238.6 990.6C237.1 984.8 235.8 978.9 234.5 973.0C233.2 967.1 232.0 961.2 230.9 955.3C229.8 949.4 228.7 943.5 227.8 937.5C226.8 931.6 225.9 925.7 225.2 919.8C224.4 913.8 223.6 907.9 223.0 902.0C222.4 896.0 221.8 890.1 221.4 884.1C220.9 878.2 220.5 872.2 220.2 866.3C219.9 860.3 219.6 854.4 219.5 848.4C219.3 842.4 219.2 836.5 219.2 830.5C219.2 824.5 219.3 818.6 219.5 812.6C219.6 806.7 219.9 800.7 220.2 794.7C220.5 788.8 220.9 782.8 221.3 776.8C221.8 770.9 222.3 764.9 222.9 759.0C223.5 753.0 224.2 747.0 225.0 741.1C225.8 735.1 226.6 729.2 227.5 723.2C228.4 717.3 229.4 711.4 230.5 705.4C231.5 699.5 232.7 693.6 233.9 687.6C235.1 681.7 236.4 675.8 237.7 669.9C239.1 664.0 240.5 658.0 242.0 652.1C243.5 646.2 245.1 640.4 246.7 634.5C248.3 628.6 250.1 622.7 251.8 616.8C253.6 611.0 255.5 605.1 257.4 599.3C259.3 593.4 261.3 587.6 263.4 581.8C265.5 576.0 267.7 570.3 270.0 564.6C272.3 558.9 274.7 553.3 277.2 547.7C279.7 542.2 282.3 536.7 285.1 531.3C287.8 525.9 290.7 520.6 293.7 515.4C296.7 510.2 299.8 505.1 303.1 500.2C306.3 495.2 309.7 490.4 313.3 485.7C316.9 481.0 320.6 476.5 324.5 472.1C328.4 467.7 332.5 463.5 336.7 459.5C341.0 455.4 345.4 451.5 350.0 447.9C354.7 444.2 359.5 440.7 364.5 437.5C369.5 434.2 374.7 431.2 380.1 428.3C385.5 425.5 394.2 421.9 397.0 420.6L446 444L580 421L584.7 418.7C584.2 422.4 582.7 433.4 582.0 440.8C581.3 448.2 580.7 455.5 580.4 462.9C580.0 470.3 579.8 477.7 579.8 485.1C579.8 492.4 579.9 499.8 580.3 507.2C580.6 514.5 581.1 521.9 581.8 529.2C582.5 536.5 583.3 543.9 584.3 551.1C585.4 558.4 586.5 565.7 587.9 572.9C589.2 580.1 590.7 587.3 592.4 594.5C594.1 601.7 595.9 608.8 597.9 615.9C599.9 622.9 602.0 630.0 604.3 636.9C606.6 643.9 609.1 650.8 611.7 657.7C614.3 664.6 617.0 671.4 620.0 678.1C622.9 684.9 625.9 691.6 629.1 698.2C632.3 704.8 635.7 711.3 639.2 717.8C642.7 724.2 646.3 730.6 650.1 736.9C653.9 743.2 657.8 749.4 661.9 755.5C665.9 761.6 670.1 767.7 674.5 773.6C678.8 779.5 683.3 785.4 687.9 791.1C692.5 796.8 697.2 802.4 702.1 807.9C706.9 813.4 711.9 818.9 717.0 824.1C722.2 829.4 727.4 834.6 732.8 839.6C738.2 844.7 743.6 849.6 749.3 854.4C754.9 859.1 760.6 863.8 766.5 868.3C772.3 872.8 778.3 877.2 784.4 881.4C790.5 885.7 799.9 891.7 803.0 893.7L833.4 889.4L704 921.7L666 934.4C665.9 937.9 665.8 948.4 665.4 955.4C665.1 962.3 664.6 969.3 664.0 976.3C663.4 983.3 662.6 990.2 661.6 997.2C660.7 1004.1 659.6 1011.0 658.4 1017.9C657.2 1024.8 655.8 1031.7 654.2 1038.5C652.7 1045.3 651.0 1052.1 649.1 1058.9C647.2 1065.6 645.2 1072.3 643.0 1079.0C640.8 1085.6 638.4 1092.2 635.9 1098.7C633.4 1105.2 630.7 1111.7 627.8 1118.1C624.9 1124.5 620.2 1133.8 618.7 1137.0Z" fill="url(#gCup)"/>
  <g clip-path="url(#cCup)">
    <path d="M618.7 1137.0C617.1 1139.5 612.6 1147.0 609.2 1151.8C605.8 1156.7 602.2 1161.6 598.3 1166.3C594.4 1171.0 590.3 1175.6 586.0 1180.1C581.7 1184.5 577.2 1188.9 572.5 1193.0C567.9 1197.2 563.0 1201.2 558.0 1204.9C553.0 1208.7 547.9 1212.3 542.6 1215.6C537.4 1218.9 532.0 1222.0 526.5 1224.8C521.0 1227.6 515.4 1230.1 509.8 1232.3C504.1 1234.5 498.4 1236.4 492.6 1237.9C486.9 1239.5 481.0 1240.7 475.2 1241.6C469.4 1242.4 463.5 1243.0 457.7 1243.2C451.9 1243.4 446.1 1243.2 440.3 1242.7C434.6 1242.2 428.9 1241.4 423.2 1240.2C417.6 1239.0 412.0 1237.4 406.6 1235.5C401.1 1233.6 395.7 1231.4 390.4 1228.9C385.2 1226.4 380.0 1223.5 374.9 1220.5C369.9 1217.4 365.0 1214.1 360.2 1210.6C355.4 1207.0 350.7 1203.2 346.2 1199.3C341.7 1195.3 337.4 1191.1 333.2 1186.8C329.0 1182.5 325.0 1177.9 321.1 1173.3C317.2 1168.7 313.5 1163.9 310.0 1159.0C306.4 1154.1 303.0 1149.0 299.8 1143.9C296.5 1138.7 293.4 1133.5 290.4 1128.1C287.4 1122.8 284.5 1117.3 281.7 1111.8C279.0 1106.3 276.4 1100.7 273.8 1095.1C271.3 1089.4 268.9 1083.7 266.6 1078.0C264.3 1072.3 262.1 1066.5 260.0 1060.7C257.8 1054.9 255.8 1049.1 253.9 1043.3C251.9 1037.5 250.0 1031.6 248.3 1025.8C246.5 1020.0 244.8 1014.1 243.2 1008.3C241.5 1002.4 240.0 996.5 238.6 990.6C237.1 984.8 235.8 978.9 234.5 973.0C233.2 967.1 232.0 961.2 230.9 955.3C229.8 949.4 228.7 943.5 227.8 937.5C226.8 931.6 225.9 925.7 225.2 919.8C224.4 913.8 223.6 907.9 223.0 902.0C222.4 896.0 221.8 890.1 221.4 884.1C220.9 878.2 220.5 872.2 220.2 866.3C219.9 860.3 219.6 854.4 219.5 848.4C219.3 842.4 219.2 836.5 219.2 830.5C219.2 824.5 219.3 818.6 219.5 812.6C219.6 806.7 219.9 800.7 220.2 794.7C220.5 788.8 220.9 782.8 221.3 776.8C221.8 770.9 222.3 764.9 222.9 759.0C223.5 753.0 224.2 747.0 225.0 741.1C225.8 735.1 226.6 729.2 227.5 723.2C228.4 717.3 229.4 711.4 230.5 705.4C231.5 699.5 232.7 693.6 233.9 687.6C235.1 681.7 236.4 675.8 237.7 669.9C239.1 664.0 240.5 658.0 242.0 652.1C243.5 646.2 245.1 640.4 246.7 634.5C248.3 628.6 250.1 622.7 251.8 616.8C253.6 611.0 255.5 605.1 257.4 599.3C259.3 593.4 261.3 587.6 263.4 581.8C265.5 576.0 267.7 570.3 270.0 564.6C272.3 558.9 274.7 553.3 277.2 547.7C279.7 542.2 282.3 536.7 285.1 531.3C287.8 525.9 290.7 520.6 293.7 515.4C296.7 510.2 299.8 505.1 303.1 500.2C306.3 495.2 309.7 490.4 313.3 485.7C316.9 481.0 320.6 476.5 324.5 472.1C328.4 467.7 332.5 463.5 336.7 459.5C341.0 455.4 345.4 451.5 350.0 447.9C354.7 444.2 359.5 440.7 364.5 437.5C369.5 434.2 374.7 431.2 380.1 428.3C385.5 425.5 394.2 421.9 397.0 420.6" fill="none" stroke="url(#gBand)" stroke-width="46" filter="url(#b6)"/>
    <path d="M618.7 1137.0C617.1 1139.5 612.6 1147.0 609.2 1151.8C605.8 1156.7 602.2 1161.6 598.3 1166.3C594.4 1171.0 590.3 1175.6 586.0 1180.1C581.7 1184.5 577.2 1188.9 572.5 1193.0C567.9 1197.2 563.0 1201.2 558.0 1204.9C553.0 1208.7 547.9 1212.3 542.6 1215.6C537.4 1218.9 532.0 1222.0 526.5 1224.8C521.0 1227.6 515.4 1230.1 509.8 1232.3C504.1 1234.5 498.4 1236.4 492.6 1237.9C486.9 1239.5 481.0 1240.7 475.2 1241.6C469.4 1242.4 463.5 1243.0 457.7 1243.2C451.9 1243.4 446.1 1243.2 440.3 1242.7C434.6 1242.2 428.9 1241.4 423.2 1240.2C417.6 1239.0 412.0 1237.4 406.6 1235.5C401.1 1233.6 395.7 1231.4 390.4 1228.9C385.2 1226.4 380.0 1223.5 374.9 1220.5C369.9 1217.4 365.0 1214.1 360.2 1210.6C355.4 1207.0 350.7 1203.2 346.2 1199.3C341.7 1195.3 337.4 1191.1 333.2 1186.8C329.0 1182.5 325.0 1177.9 321.1 1173.3C317.2 1168.7 313.5 1163.9 310.0 1159.0C306.4 1154.1 303.0 1149.0 299.8 1143.9C296.5 1138.7 293.4 1133.5 290.4 1128.1C287.4 1122.8 284.5 1117.3 281.7 1111.8C279.0 1106.3 276.4 1100.7 273.8 1095.1C271.3 1089.4 268.9 1083.7 266.6 1078.0C264.3 1072.3 262.1 1066.5 260.0 1060.7C257.8 1054.9 255.8 1049.1 253.9 1043.3C251.9 1037.5 250.0 1031.6 248.3 1025.8C246.5 1020.0 244.8 1014.1 243.2 1008.3C241.5 1002.4 240.0 996.5 238.6 990.6C237.1 984.8 235.8 978.9 234.5 973.0C233.2 967.1 232.0 961.2 230.9 955.3C229.8 949.4 228.7 943.5 227.8 937.5C226.8 931.6 225.9 925.7 225.2 919.8C224.4 913.8 223.6 907.9 223.0 902.0C222.4 896.0 221.8 890.1 221.4 884.1C220.9 878.2 220.5 872.2 220.2 866.3C219.9 860.3 219.6 854.4 219.5 848.4C219.3 842.4 219.2 836.5 219.2 830.5C219.2 824.5 219.3 818.6 219.5 812.6C219.6 806.7 219.9 800.7 220.2 794.7C220.5 788.8 220.9 782.8 221.3 776.8C221.8 770.9 222.3 764.9 222.9 759.0C223.5 753.0 224.2 747.0 225.0 741.1C225.8 735.1 226.6 729.2 227.5 723.2C228.4 717.3 229.4 711.4 230.5 705.4C231.5 699.5 232.7 693.6 233.9 687.6C235.1 681.7 236.4 675.8 237.7 669.9C239.1 664.0 240.5 658.0 242.0 652.1C243.5 646.2 245.1 640.4 246.7 634.5C248.3 628.6 250.1 622.7 251.8 616.8C253.6 611.0 255.5 605.1 257.4 599.3C259.3 593.4 261.3 587.6 263.4 581.8C265.5 576.0 267.7 570.3 270.0 564.6C272.3 558.9 274.7 553.3 277.2 547.7C279.7 542.2 282.3 536.7 285.1 531.3C287.8 525.9 290.7 520.6 293.7 515.4C296.7 510.2 299.8 505.1 303.1 500.2C306.3 495.2 309.7 490.4 313.3 485.7C316.9 481.0 320.6 476.5 324.5 472.1C328.4 467.7 332.5 463.5 336.7 459.5C341.0 455.4 345.4 451.5 350.0 447.9C354.7 444.2 359.5 440.7 364.5 437.5C369.5 434.2 374.7 431.2 380.1 428.3C385.5 425.5 394.2 421.9 397.0 420.6" fill="none" stroke="#0e0e0e" stroke-width="8" opacity="0.5" filter="url(#b2)"/>
  </g>
  <path d="M618.7 1137.0C617.1 1139.5 612.6 1147.0 609.2 1151.8C605.8 1156.7 602.2 1161.6 598.3 1166.3C594.4 1171.0 590.3 1175.6 586.0 1180.1C581.7 1184.5 577.2 1188.9 572.5 1193.0C567.9 1197.2 563.0 1201.2 558.0 1204.9C553.0 1208.7 547.9 1212.3 542.6 1215.6C537.4 1218.9 532.0 1222.0 526.5 1224.8C521.0 1227.6 515.4 1230.1 509.8 1232.3C504.1 1234.5 498.4 1236.4 492.6 1237.9C486.9 1239.5 481.0 1240.7 475.2 1241.6C469.4 1242.4 463.5 1243.0 457.7 1243.2C451.9 1243.4 446.1 1243.2 440.3 1242.7C434.6 1242.2 428.9 1241.4 423.2 1240.2C417.6 1239.0 412.0 1237.4 406.6 1235.5C401.1 1233.6 395.7 1231.4 390.4 1228.9C385.2 1226.4 380.0 1223.5 374.9 1220.5C369.9 1217.4 365.0 1214.1 360.2 1210.6C355.4 1207.0 350.7 1203.2 346.2 1199.3C341.7 1195.3 337.4 1191.1 333.2 1186.8C329.0 1182.5 325.0 1177.9 321.1 1173.3C317.2 1168.7 313.5 1163.9 310.0 1159.0C306.4 1154.1 303.0 1149.0 299.8 1143.9C296.5 1138.7 293.4 1133.5 290.4 1128.1C287.4 1122.8 284.5 1117.3 281.7 1111.8C279.0 1106.3 276.4 1100.7 273.8 1095.1C271.3 1089.4 268.9 1083.7 266.6 1078.0C264.3 1072.3 262.1 1066.5 260.0 1060.7C257.8 1054.9 255.8 1049.1 253.9 1043.3C251.9 1037.5 250.0 1031.6 248.3 1025.8C246.5 1020.0 244.8 1014.1 243.2 1008.3C241.5 1002.4 240.0 996.5 238.6 990.6C237.1 984.8 235.8 978.9 234.5 973.0C233.2 967.1 232.0 961.2 230.9 955.3C229.8 949.4 228.7 943.5 227.8 937.5C226.8 931.6 225.9 925.7 225.2 919.8C224.4 913.8 223.6 907.9 223.0 902.0C222.4 896.0 221.8 890.1 221.4 884.1C220.9 878.2 220.5 872.2 220.2 866.3C219.9 860.3 219.6 854.4 219.5 848.4C219.3 842.4 219.2 836.5 219.2 830.5C219.2 824.5 219.3 818.6 219.5 812.6C219.6 806.7 219.9 800.7 220.2 794.7C220.5 788.8 220.9 782.8 221.3 776.8C221.8 770.9 222.3 764.9 222.9 759.0C223.5 753.0 224.2 747.0 225.0 741.1C225.8 735.1 226.6 729.2 227.5 723.2C228.4 717.3 229.4 711.4 230.5 705.4C231.5 699.5 232.7 693.6 233.9 687.6C235.1 681.7 236.4 675.8 237.7 669.9C239.1 664.0 240.5 658.0 242.0 652.1C243.5 646.2 245.1 640.4 246.7 634.5C248.3 628.6 250.1 622.7 251.8 616.8C253.6 611.0 255.5 605.1 257.4 599.3C259.3 593.4 261.3 587.6 263.4 581.8C265.5 576.0 267.7 570.3 270.0 564.6C272.3 558.9 274.7 553.3 277.2 547.7C279.7 542.2 282.3 536.7 285.1 531.3C287.8 525.9 290.7 520.6 293.7 515.4C296.7 510.2 299.8 505.1 303.1 500.2C306.3 495.2 309.7 490.4 313.3 485.7C316.9 481.0 320.6 476.5 324.5 472.1C328.4 467.7 332.5 463.5 336.7 459.5C341.0 455.4 345.4 451.5 350.0 447.9C354.7 444.2 359.5 440.7 364.5 437.5C369.5 434.2 374.7 431.2 380.1 428.3C385.5 425.5 394.2 421.9 397.0 420.6" fill="none" stroke="#4b4b4b" stroke-width="2" opacity="0.7"/>
  <path d="M618.7 1137.0C617.1 1139.5 612.6 1147.0 609.2 1151.8C605.8 1156.7 602.2 1161.6 598.3 1166.3C594.4 1171.0 590.3 1175.6 586.0 1180.1C581.7 1184.5 577.2 1188.9 572.5 1193.0C567.9 1197.2 563.0 1201.2 558.0 1204.9C553.0 1208.7 547.9 1212.3 542.6 1215.6C537.4 1218.9 532.0 1222.0 526.5 1224.8C521.0 1227.6 515.4 1230.1 509.8 1232.3C504.1 1234.5 498.4 1236.4 492.6 1237.9C486.9 1239.5 481.0 1240.7 475.2 1241.6C469.4 1242.4 463.5 1243.0 457.7 1243.2C451.9 1243.4 446.1 1243.2 440.3 1242.7C434.6 1242.2 428.9 1241.4 423.2 1240.2C417.6 1239.0 412.0 1237.4 406.6 1235.5C401.1 1233.6 395.7 1231.4 390.4 1228.9C385.2 1226.4 380.0 1223.5 374.9 1220.5C369.9 1217.4 365.0 1214.1 360.2 1210.6C355.4 1207.0 350.7 1203.2 346.2 1199.3C341.7 1195.3 337.4 1191.1 333.2 1186.8C329.0 1182.5 325.0 1177.9 321.1 1173.3C317.2 1168.7 313.5 1163.9 310.0 1159.0C306.4 1154.1 303.0 1149.0 299.8 1143.9C296.5 1138.7 293.4 1133.5 290.4 1128.1C287.4 1122.8 284.5 1117.3 281.7 1111.8C279.0 1106.3 276.4 1100.7 273.8 1095.1C271.3 1089.4 268.9 1083.7 266.6 1078.0C264.3 1072.3 262.1 1066.5 260.0 1060.7C257.8 1054.9 255.8 1049.1 253.9 1043.3C251.9 1037.5 249.2 1028.7 248.3 1025.8" fill="none" stroke="url(#gCrease)" stroke-width="3.4"/>
  <path d="M584.7 418.7C584.2 422.4 582.7 433.4 582.0 440.8C581.3 448.2 580.7 455.5 580.4 462.9C580.0 470.3 579.8 477.7 579.8 485.1C579.8 492.4 579.9 499.8 580.3 507.2C580.6 514.5 581.1 521.9 581.8 529.2C582.5 536.5 583.3 543.9 584.3 551.1C585.4 558.4 586.5 565.7 587.9 572.9C589.2 580.1 590.7 587.3 592.4 594.5C594.1 601.7 595.9 608.8 597.9 615.9C599.9 622.9 602.0 630.0 604.3 636.9C606.6 643.9 609.1 650.8 611.7 657.7C614.3 664.6 617.0 671.4 620.0 678.1C622.9 684.9 625.9 691.6 629.1 698.2C632.3 704.8 635.7 711.3 639.2 717.8C642.7 724.2 646.3 730.6 650.1 736.9C653.9 743.2 657.8 749.4 661.9 755.5C665.9 761.6 670.1 767.7 674.5 773.6C678.8 779.5 683.3 785.4 687.9 791.1C692.5 796.8 697.2 802.4 702.1 807.9C706.9 813.4 711.9 818.9 717.0 824.1C722.2 829.4 727.4 834.6 732.8 839.6C738.2 844.7 743.6 849.6 749.3 854.4C754.9 859.1 760.6 863.8 766.5 868.3C772.3 872.8 778.3 877.2 784.4 881.4C790.5 885.7 799.9 891.7 803.0 893.7" fill="none" stroke="#3a3a3a" stroke-width="13"/>
</g>

<!-- top cut -->
<path d="M367.7 190.3C373.3 184.8 387.8 184.8 401.9 182.3C416.0 179.8 437.8 176.9 452.5 175.3C467.2 173.7 477.5 172.9 490.0 172.5C502.5 172.1 517.5 172.5 527.5 172.9C537.5 173.3 544.2 173.0 550.0 174.7C555.8 176.3 559.2 179.1 562.2 182.8C565.2 186.5 566.1 186.8 567.8 196.9C569.5 207.1 570.8 226.5 572.5 243.7C574.2 260.9 576.1 282.8 578.0 300.0C579.9 317.2 582.0 331.6 583.7 346.9C585.4 362.2 587.9 381.0 588.4 391.9C588.9 402.8 588.0 407.6 586.6 412.5C585.2 417.4 586.8 417.6 580.0 421.0C573.2 424.4 557.9 429.6 546.0 433.0C534.1 436.4 521.2 439.4 508.7 441.6C496.2 443.8 481.3 445.5 471.0 446.0C460.7 446.5 454.7 445.6 446.9 444.4C439.1 443.2 431.3 442.1 424.4 438.7C417.5 435.2 410.3 428.7 405.6 423.7C400.9 418.7 398.8 416.8 396.0 408.7C393.2 400.6 391.4 390.0 388.7 375.0C386.0 360.0 382.6 337.4 380.0 318.7C377.4 299.9 374.8 279.7 372.8 262.5C370.8 245.3 368.9 227.6 368.0 215.6C367.1 203.6 362.1 195.9 367.7 190.3Z" fill="#dddcae"/>
<g clip-path="url(#cTop)"><path d="M340 150L401.9 182.3C403.4 190.9 407.2 214.4 411.0 234.0C414.8 253.6 420.0 276.5 424.4 300.0C428.8 323.5 433.8 350.9 437.5 375.0C441.2 399.1 445.3 432.8 446.9 444.4L447 470L340 470Z" fill="#69a5bd"/></g>
<path d="M367.7 190.3C373.3 184.8 387.8 184.8 401.9 182.3C416.0 179.8 437.8 176.9 452.5 175.3C467.2 173.7 477.5 172.9 490.0 172.5C502.5 172.1 517.5 172.5 527.5 172.9C537.5 173.3 544.2 173.0 550.0 174.7C555.8 176.3 559.2 179.1 562.2 182.8C565.2 186.5 566.1 186.8 567.8 196.9C569.5 207.1 570.8 226.5 572.5 243.7C574.2 260.9 576.1 282.8 578.0 300.0C579.9 317.2 582.0 331.6 583.7 346.9C585.4 362.2 587.9 381.0 588.4 391.9C588.9 402.8 588.0 407.6 586.6 412.5C585.2 417.4 586.8 417.6 580.0 421.0C573.2 424.4 557.9 429.6 546.0 433.0C534.1 436.4 521.2 439.4 508.7 441.6C496.2 443.8 481.3 445.5 471.0 446.0C460.7 446.5 454.7 445.6 446.9 444.4C439.1 443.2 431.3 442.1 424.4 438.7C417.5 435.2 410.3 428.7 405.6 423.7C400.9 418.7 398.8 416.8 396.0 408.7C393.2 400.6 391.4 390.0 388.7 375.0C386.0 360.0 382.6 337.4 380.0 318.7C377.4 299.9 374.8 279.7 372.8 262.5C370.8 245.3 368.9 227.6 368.0 215.6C367.1 203.6 362.1 195.9 367.7 190.3Z" fill="none" stroke="#1a1a1a" stroke-width="2.2"/>

<!-- bottom cut -->
<path d="M800 891.5L833.4 888.2L833.4 892L806 897Z" fill="#151515"/>
<path d="M889.7 982.0C894.8 980.0 908.3 974.2 920.0 970.0C931.7 965.8 945.2 961.1 960.0 957.0C974.8 952.9 1000.8 947.5 1009.0 945.6C1009.5 950.0 1011.3 963.4 1011.8 972.2C1012.3 981.1 1012.2 990.0 1011.8 998.8C1011.4 1007.6 1010.5 1016.4 1009.3 1025.2C1008.1 1034.0 1006.5 1042.7 1004.7 1051.4C1002.8 1060.1 1000.6 1068.8 998.2 1077.4C995.8 1086.0 993.0 1094.6 990.1 1103.1C987.2 1111.6 984.1 1120.0 980.8 1128.4C977.6 1136.7 974.1 1145.0 970.6 1153.2C967.1 1161.5 963.4 1169.6 959.7 1177.6C956.0 1185.7 950.4 1197.5 948.5 1201.5C945.8 1203.1 937.6 1208.0 932.1 1210.8C926.6 1213.7 920.9 1216.3 915.3 1218.6C909.6 1220.9 903.8 1223.0 898.0 1224.8C892.2 1226.6 886.4 1228.2 880.5 1229.5C874.6 1230.9 868.7 1231.9 862.8 1232.8C856.8 1233.6 849.9 1234.2 844.9 1234.6C839.9 1235.0 835.0 1234.9 833.0 1235.0C834.7 1231.1 839.9 1219.3 843.1 1211.3C846.4 1203.4 849.5 1195.3 852.4 1187.2C855.4 1179.2 858.3 1171.0 860.9 1162.8C863.6 1154.6 866.1 1146.3 868.5 1138.0C870.8 1129.7 873.0 1121.4 875.0 1113.0C877.0 1104.6 878.8 1096.2 880.4 1087.7C882.0 1079.3 883.5 1070.8 884.7 1062.2C885.9 1053.7 886.9 1045.2 887.7 1036.6C888.5 1028.0 889.1 1019.4 889.4 1010.8C889.7 1002.2 889.7 989.3 889.7 985.0Z" fill="#cbca93"/>
<path d="M704.0 921.7C707.6 920.4 718.3 916.5 725.5 914.0C732.7 911.6 740.0 909.3 747.4 907.2C754.7 905.1 762.1 903.1 769.5 901.3C776.9 899.6 784.3 898.1 791.7 896.8C799.2 895.5 806.7 894.5 814.2 893.8C821.6 893.1 829.1 892.7 836.6 892.6C844.1 892.6 851.6 892.8 859.1 893.5C866.6 894.2 874.0 895.3 881.5 896.7C888.9 898.2 896.3 900.1 903.7 902.3C911.1 904.4 918.4 907.0 925.7 909.6C933.0 912.2 940.2 915.1 947.4 917.9C954.6 920.7 961.7 923.7 968.8 926.4C975.8 929.2 983.0 931.2 989.7 934.4C996.4 937.6 1005.8 943.7 1009.0 945.6C1000.8 947.5 974.8 952.9 960.0 957.0C945.2 961.1 931.7 965.8 920.0 970.0C908.3 974.2 894.8 980.0 889.7 982.0C879.8 978.3 851.6 967.3 830.0 960.0C808.4 952.7 781.0 944.4 760.0 938.0C739.0 931.6 713.3 924.4 704.0 921.7Z" fill="#dbdaae"/>
<g clip-path="url(#cCream)"><path d="M889.7 982.0C894.8 980.0 908.3 974.2 920.0 970.0C931.7 965.8 945.2 961.1 960.0 957.0C974.8 952.9 1000.8 947.5 1009.0 945.6" fill="none" stroke="#d3d2a0" stroke-width="9" filter="url(#b3)"/></g>
<path d="M666.0 934.4C665.9 937.9 665.8 948.4 665.4 955.4C665.1 962.3 664.6 969.3 664.0 976.3C663.4 983.3 662.6 990.2 661.6 997.2C660.7 1004.1 659.6 1011.0 658.4 1017.9C657.2 1024.8 655.8 1031.7 654.2 1038.5C652.7 1045.3 651.0 1052.1 649.1 1058.9C647.2 1065.6 645.2 1072.3 643.0 1079.0C640.8 1085.6 638.4 1092.2 635.9 1098.7C633.4 1105.2 630.7 1111.7 627.8 1118.1C624.9 1124.5 620.2 1133.8 618.7 1137.0C620.8 1139.2 626.9 1146.0 631.2 1150.3C635.5 1154.5 639.9 1158.7 644.5 1162.7C649.1 1166.7 653.8 1170.6 658.6 1174.4C663.4 1178.1 668.4 1181.7 673.4 1185.1C678.5 1188.6 683.6 1191.8 688.9 1195.0C694.1 1198.1 699.5 1201.0 704.9 1203.8C710.3 1206.6 715.8 1209.2 721.4 1211.7C727.0 1214.1 732.7 1216.4 738.4 1218.5C744.1 1220.6 749.9 1222.5 755.7 1224.2C761.5 1225.9 767.3 1227.4 773.2 1228.7C779.1 1230.1 785.1 1231.2 791.0 1232.1C797.0 1233.0 803.0 1233.7 808.9 1234.2C814.9 1234.7 822.9 1235.0 826.9 1235.1C830.9 1235.2 832.0 1235.0 833.0 1235.0C834.7 1231.1 839.9 1219.3 843.1 1211.3C846.4 1203.4 849.5 1195.3 852.4 1187.2C855.4 1179.2 858.3 1171.0 860.9 1162.8C863.6 1154.6 866.1 1146.3 868.5 1138.0C870.8 1129.7 873.0 1121.4 875.0 1113.0C877.0 1104.6 878.8 1096.2 880.4 1087.7C882.0 1079.3 883.5 1070.8 884.7 1062.2C885.9 1053.7 886.9 1045.2 887.7 1036.6C888.5 1028.0 889.1 1019.4 889.4 1010.8C889.7 1002.2 889.7 989.3 889.7 985.0L853 993.4C840.8 989.7 802.2 977.4 780.0 971.0C757.8 964.6 738.5 959.7 720.0 955.0C701.5 950.3 677.5 945.0 669.0 943.0Z" fill="#78aabf" stroke="#78aabf" stroke-width="1.5"/>
<path d="M853.0 993.4C853.1 998.0 853.8 1012.0 853.6 1021.3C853.4 1030.5 852.7 1039.8 851.8 1048.9C850.9 1058.1 849.5 1067.2 847.9 1076.2C846.3 1085.3 844.4 1094.3 842.2 1103.3C840.0 1112.2 837.5 1121.1 834.8 1130.0C832.1 1138.8 829.2 1147.6 826.1 1156.3C822.9 1165.0 819.6 1173.7 816.2 1182.3C812.7 1190.9 809.1 1199.4 805.4 1207.8C801.7 1216.3 795.9 1228.8 794.0 1233.0L833 1235C834.7 1231.1 839.9 1219.3 843.1 1211.3C846.4 1203.4 849.5 1195.3 852.4 1187.2C855.4 1179.2 858.3 1171.0 860.9 1162.8C863.6 1154.6 866.1 1146.3 868.5 1138.0C870.8 1129.7 873.0 1121.4 875.0 1113.0C877.0 1104.6 878.8 1096.2 880.4 1087.7C882.0 1079.3 883.5 1070.8 884.7 1062.2C885.9 1053.7 886.9 1045.2 887.7 1036.6C888.5 1028.0 889.1 1019.4 889.4 1010.8C889.7 1002.2 889.7 989.3 889.7 985.0Z" fill="#699fb9"/>
<path d="M666 934.4L704 921.7C713.3 924.4 739.0 931.6 760.0 938.0C781.0 944.4 808.4 952.7 830.0 960.0C851.6 967.3 879.8 978.3 889.7 982.0L889.7 986L853 993.4C840.8 989.7 802.2 977.4 780.0 971.0C757.8 964.6 738.5 959.7 720.0 955.0C701.5 950.3 677.5 945.0 669.0 943.0Z" fill="#80b4c8" stroke="#80b4c8" stroke-width="1"/>

<!-- call-out lines -->
<path class="rl" d="M332 304.1H1540.5"/>
<circle class="rd" cx="332.2" cy="305.5" r="10.3"/>
<path class="rl" d="M1442.5 555.6H698.3V1064"/>
<circle class="rd" cx="698" cy="1064.3" r="9.8"/>
<path class="rl" d="M1395 758.9H792V921"/>
<circle class="rd" cx="792" cy="921.2" r="9.6"/>

<!-- labels -->
<text class="lbl" x="595.5" y="223.5" textLength="752" lengthAdjust="spacingAndGlyphs">New-type Heat Conduction Fibre</text>
<text class="lbl" x="596" y="283.5" textLength="946" lengthAdjust="spacingAndGlyphs">Rapid evaporation and perspiration effect</text>
<text class="lbl" x="693" y="425" textLength="515.5" lengthAdjust="spacingAndGlyphs">Cooling Soft GEL Layer</text>
<text class="lbl" x="692" y="483.5" textLength="751.5" lengthAdjust="spacingAndGlyphs">Reduce the accumulation of heat</text>
<text class="lbl" x="693" y="541.5" textLength="256.5" lengthAdjust="spacingAndGlyphs">on the ears</text>
<text class="lbl" x="788" y="737.5" textLength="338" lengthAdjust="spacingAndGlyphs">Memory Foam</text>

<defs><linearGradient id="ga0" gradientUnits="userSpaceOnUse" x1="1238.0" y1="1253.0" x2="1179.4" y2="1128.0"><stop offset="0" stop-color="#eeb4b6" stop-opacity="0.08"/><stop offset="0.3" stop-color="#f0a0a2" stop-opacity="0.42"/><stop offset="0.6" stop-color="#f16c68" stop-opacity="0.8"/><stop offset="0.82" stop-color="#f23a32" stop-opacity="1"/><stop offset="1" stop-color="#f02c26" stop-opacity="1"/></linearGradient><linearGradient id="ga1" gradientUnits="userSpaceOnUse" x1="1270.0" y1="1210.0" x2="1205.0" y2="1142.5"><stop offset="0" stop-color="#eeb4b6" stop-opacity="0.08"/><stop offset="0.3" stop-color="#f0a0a2" stop-opacity="0.42"/><stop offset="0.6" stop-color="#f16c68" stop-opacity="0.8"/><stop offset="0.82" stop-color="#f23a32" stop-opacity="1"/><stop offset="1" stop-color="#f02c26" stop-opacity="1"/></linearGradient><linearGradient id="ga2" gradientUnits="userSpaceOnUse" x1="1240.0" y1="1357.0" x2="1183.0" y2="1482.5"><stop offset="0" stop-color="#eeb4b6" stop-opacity="0.08"/><stop offset="0.3" stop-color="#f0a0a2" stop-opacity="0.42"/><stop offset="0.6" stop-color="#f16c68" stop-opacity="0.8"/><stop offset="0.82" stop-color="#f23a32" stop-opacity="1"/><stop offset="1" stop-color="#f02c26" stop-opacity="1"/></linearGradient><linearGradient id="ga3" gradientUnits="userSpaceOnUse" x1="1274.0" y1="1400.0" x2="1208.7" y2="1468.7"><stop offset="0" stop-color="#eeb4b6" stop-opacity="0.08"/><stop offset="0.3" stop-color="#f0a0a2" stop-opacity="0.42"/><stop offset="0.6" stop-color="#f16c68" stop-opacity="0.8"/><stop offset="0.82" stop-color="#f23a32" stop-opacity="1"/><stop offset="1" stop-color="#f02c26" stop-opacity="1"/></linearGradient><linearGradient id="ga4" gradientUnits="userSpaceOnUse" x1="1391.0" y1="1134.0" x2="1453.0" y2="1281.6"><stop offset="0" stop-color="#eeb4b6" stop-opacity="0.08"/><stop offset="0.3" stop-color="#f0a0a2" stop-opacity="0.42"/><stop offset="0.6" stop-color="#f16c68" stop-opacity="0.8"/><stop offset="0.82" stop-color="#f23a32" stop-opacity="1"/><stop offset="1" stop-color="#f02c26" stop-opacity="1"/></linearGradient><linearGradient id="ga5" gradientUnits="userSpaceOnUse" x1="1337.0" y1="1170.0" x2="1412.0" y2="1261.6"><stop offset="0" stop-color="#eeb4b6" stop-opacity="0.08"/><stop offset="0.3" stop-color="#f0a0a2" stop-opacity="0.42"/><stop offset="0.6" stop-color="#f16c68" stop-opacity="0.8"/><stop offset="0.82" stop-color="#f23a32" stop-opacity="1"/><stop offset="1" stop-color="#f02c26" stop-opacity="1"/></linearGradient><linearGradient id="ga6" gradientUnits="userSpaceOnUse" x1="1331.0" y1="1441.0" x2="1402.0" y2="1345.3"><stop offset="0" stop-color="#eeb4b6" stop-opacity="0.08"/><stop offset="0.3" stop-color="#f0a0a2" stop-opacity="0.42"/><stop offset="0.6" stop-color="#f16c68" stop-opacity="0.8"/><stop offset="0.82" stop-color="#f23a32" stop-opacity="1"/><stop offset="1" stop-color="#f02c26" stop-opacity="1"/></linearGradient><linearGradient id="ga7" gradientUnits="userSpaceOnUse" x1="1390.0" y1="1462.0" x2="1445.5" y2="1312.3"><stop offset="0" stop-color="#eeb4b6" stop-opacity="0.08"/><stop offset="0.3" stop-color="#f0a0a2" stop-opacity="0.42"/><stop offset="0.6" stop-color="#f16c68" stop-opacity="0.8"/><stop offset="0.82" stop-color="#f23a32" stop-opacity="1"/><stop offset="1" stop-color="#f02c26" stop-opacity="1"/></linearGradient><linearGradient id="gam" gradientUnits="userSpaceOnUse" x1="1402" y1="0" x2="1490" y2="0"><stop offset="0" stop-color="#f0a8a8" stop-opacity="0.15"/><stop offset="0.3" stop-color="#ee8078" stop-opacity="0.6"/><stop offset="0.6" stop-color="#f0503f" stop-opacity="0.95"/><stop offset="0.8" stop-color="#f4604c" stop-opacity="0.9"/><stop offset="1" stop-color="#f6907a" stop-opacity="0"/></linearGradient>
<clipPath id="cDiscR"><path d="M1434.8 1110L1523.4 1112Q1556 1300 1526 1491L1433.5 1491.8Q1419 1300 1434.8 1110Z"/></clipPath>
<linearGradient id="gFl" gradientUnits="userSpaceOnUse" x1="1444" y1="0" x2="1536" y2="0"><stop offset="0" stop-color="#f4c98e" stop-opacity="0"/><stop offset="0.22" stop-color="#f4c98e" stop-opacity="0.7"/><stop offset="0.6" stop-color="#f2c090" stop-opacity="0.5"/><stop offset="0.85" stop-color="#f0c8a0" stop-opacity="0.1"/><stop offset="1" stop-color="#f0c8a0" stop-opacity="0"/></linearGradient>
</defs>
<!-- left disc -->
<path d="M1060 1109L1137 1107.5L1150 1107L1150 1488L1136.5 1488L1061 1488Q1027 1298 1060 1109Z" fill="#dcdbad"/>
<path d="M1137 1107.5L1150 1107Q1154 1108 1155 1114L1155 1480L1150 1488L1136.5 1488Q1107 1298 1137 1107.5Z" fill="#6b9dba"/>
<ellipse cx="1151.5" cy="1298" rx="14.5" ry="190" fill="#90c2da"/>
<ellipse cx="1151.3" cy="1303" rx="7.6" ry="110" fill="#6fa3c0"/>
<!-- right disc -->
<path d="M1434.8 1110L1523.4 1112Q1556 1300 1526 1491L1433.5 1491.8Q1419 1300 1434.8 1110Z" fill="#e2e3b6"/>
<g clip-path="url(#cDiscR)">
<path d="M1440 1105Q1426 1300 1439 1495" fill="none" stroke="#d9deb0" stroke-width="14" opacity="0.9"/>
<path d="M1448 1105Q1434 1300 1447 1495" fill="none" stroke="#eceed0" stroke-width="2.5" opacity="0.8"/>
<rect x="1440" y="1105" width="100" height="392" fill="url(#gFl)"/>
<path d="M1463.6 1122.3L1467.5 1120.9L1470.2 1120.5L1473.1 1121.3L1476.6 1123.5L1480.6 1125.1L1484.6 1124.3L1488.0 1121.8L1491.3 1119.6L1494.7 1119.2L1491.1 1119.1L1487.4 1121.0L1483.9 1122.9L1480.9 1123.1L1478.0 1121.5L1474.6 1118.9L1470.5 1117.2L1466.3 1118.6L1463.2 1121.8ZM1452.3 1141.0L1456.7 1139.0L1459.6 1139.1L1463.3 1141.3L1467.8 1144.0L1472.6 1143.4L1476.6 1140.6L1480.1 1139.0L1484.0 1140.7L1488.2 1144.1L1484.4 1140.3L1480.2 1138.0L1475.8 1139.3L1471.8 1141.7L1468.6 1141.8L1465.1 1139.2L1460.7 1136.1L1455.6 1136.8L1452.0 1140.6ZM1453.9 1149.9L1457.1 1151.8L1460.5 1153.3L1464.4 1154.1L1468.4 1154.1L1472.2 1153.3L1475.7 1152.2L1479.1 1151.4L1482.6 1151.3L1486.2 1152.2L1482.7 1150.7L1479.0 1150.1L1475.3 1150.4L1471.6 1151.0L1468.2 1151.2L1465.0 1150.8L1461.8 1149.6L1458.0 1148.8L1454.0 1149.1ZM1456.8 1166.9L1460.0 1169.1L1463.6 1171.2L1467.9 1172.3L1472.3 1171.9L1476.3 1170.0L1480.0 1167.7L1483.5 1165.9L1487.1 1165.1L1490.8 1165.4L1487.1 1164.4L1483.1 1164.6L1479.1 1166.0L1475.2 1167.9L1471.6 1169.0L1468.5 1168.8L1465.2 1167.5L1461.3 1166.2L1456.9 1166.1ZM1461.2 1182.6L1465.0 1185.5L1469.4 1187.5L1474.4 1187.4L1478.9 1185.7L1482.9 1183.9L1486.8 1183.2L1490.9 1184.2L1495.2 1186.2L1499.6 1187.7L1495.5 1185.6L1491.4 1183.1L1487.0 1181.5L1482.3 1181.7L1477.8 1183.2L1473.8 1184.2L1470.3 1183.8L1466.2 1182.7L1461.4 1182.0ZM1457.0 1198.7L1461.3 1198.0L1464.8 1198.1L1468.6 1199.0L1472.9 1200.0L1477.4 1199.3L1481.6 1196.9L1485.4 1194.5L1489.3 1193.5L1493.3 1193.5L1489.3 1192.9L1485.0 1193.6L1480.8 1195.7L1476.8 1197.5L1473.2 1197.7L1469.5 1196.4L1465.2 1195.0L1460.6 1195.7L1456.8 1198.2ZM1459.6 1214.1L1463.2 1213.4L1466.3 1211.7L1468.8 1210.3L1471.1 1209.9L1473.8 1210.8L1476.8 1212.6L1479.9 1214.6L1483.1 1215.7L1486.1 1215.4L1483.2 1215.1L1480.5 1213.6L1477.7 1211.3L1474.8 1209.0L1471.6 1207.4L1467.9 1207.4L1464.5 1208.8L1461.7 1211.1L1459.4 1213.5ZM1456.7 1222.5L1460.9 1224.6L1465.4 1227.5L1470.7 1228.5L1475.7 1226.9L1480.2 1224.8L1484.5 1224.6L1489.1 1227.1L1493.9 1230.4L1498.7 1231.7L1494.1 1230.0L1489.6 1226.4L1484.9 1223.5L1479.8 1223.3L1474.9 1225.2L1470.6 1226.3L1466.6 1225.1L1461.8 1222.8L1456.7 1222.0ZM1460.8 1241.8L1464.2 1242.3L1467.6 1240.8L1470.4 1238.9L1472.8 1238.3L1475.6 1239.1L1478.7 1240.6L1482.0 1241.4L1485.1 1240.3L1488.0 1238.0L1484.9 1239.9L1482.0 1240.5L1479.2 1239.5L1476.3 1237.6L1473.0 1236.3L1469.4 1236.8L1466.2 1238.5L1463.5 1240.3L1460.9 1241.3ZM1463.0 1250.2L1466.8 1250.1L1469.8 1250.6L1473.2 1251.7L1476.9 1253.5L1480.9 1255.0L1484.8 1255.5L1488.6 1254.9L1492.2 1254.0L1495.9 1253.7L1492.2 1253.4L1488.4 1253.8L1484.9 1253.9L1481.6 1253.0L1478.2 1251.2L1474.6 1248.9L1470.6 1247.1L1466.3 1247.3L1462.7 1249.6ZM1452.7 1268.6L1456.0 1272.3L1460.9 1273.5L1465.2 1270.6L1468.5 1267.8L1471.4 1267.5L1475.1 1269.5L1479.3 1270.8L1483.3 1268.6L1486.9 1264.7L1482.9 1268.2L1479.3 1269.7L1476.0 1268.2L1472.1 1265.6L1467.5 1265.6L1463.3 1268.4L1460.0 1270.3L1457.4 1270.1L1453.1 1268.1ZM1458.0 1279.6L1462.2 1279.4L1465.8 1278.9L1469.2 1278.6L1472.8 1279.2L1476.6 1280.3L1480.7 1281.0L1484.6 1280.7L1488.5 1279.5L1492.2 1278.0L1488.3 1278.9L1484.5 1279.6L1480.9 1279.3L1477.3 1278.2L1473.5 1276.7L1469.5 1275.6L1465.3 1275.4L1461.3 1276.7L1457.9 1279.0ZM1455.5 1292.3L1458.9 1293.7L1462.6 1296.2L1467.1 1297.6L1471.5 1296.3L1475.4 1293.5L1478.9 1291.8L1482.6 1292.4L1486.5 1294.2L1490.5 1294.6L1486.7 1293.8L1482.9 1291.6L1478.8 1290.7L1474.5 1292.2L1470.6 1294.6L1467.2 1295.4L1463.9 1294.0L1459.8 1291.9L1455.4 1291.8ZM1452.4 1306.2L1454.7 1308.7L1457.5 1310.7L1460.8 1311.5L1464.0 1310.8L1466.9 1309.1L1469.5 1307.5L1472.1 1306.7L1474.7 1307.3L1477.6 1309.2L1475.0 1306.9L1472.1 1305.9L1469.0 1306.4L1466.1 1307.8L1463.3 1309.0L1461.0 1309.2L1458.7 1308.4L1455.9 1306.9L1452.6 1305.8ZM1463.5 1328.3L1466.6 1327.3L1468.9 1326.6L1470.8 1326.5L1473.1 1327.6L1475.8 1329.7L1478.5 1331.9L1481.4 1333.5L1484.2 1333.9L1486.8 1333.4L1484.2 1333.4L1481.8 1332.6L1479.4 1330.9L1477.0 1328.4L1474.4 1325.9L1471.5 1324.1L1468.2 1323.7L1465.3 1325.3L1463.2 1327.9ZM1463.2 1336.4L1466.9 1338.5L1470.8 1340.6L1475.3 1341.6L1479.7 1341.0L1483.8 1339.2L1487.7 1337.6L1491.6 1337.0L1495.6 1337.9L1499.7 1339.8L1495.7 1337.5L1491.6 1336.1L1487.4 1336.3L1483.2 1337.7L1479.2 1339.0L1475.5 1339.2L1471.9 1338.1L1467.7 1336.5L1463.3 1335.9ZM1457.4 1354.6L1460.3 1356.2L1463.7 1356.2L1466.7 1354.9L1469.5 1353.6L1472.1 1352.7L1474.8 1352.4L1477.6 1352.7L1480.5 1353.5L1483.5 1353.9L1480.7 1352.9L1477.9 1351.6L1474.9 1350.7L1471.8 1350.5L1468.6 1351.1L1465.6 1352.0L1462.8 1352.7L1460.4 1353.3L1457.6 1354.0ZM1455.3 1366.0L1459.2 1365.8L1462.2 1366.1L1465.6 1367.1L1469.4 1368.9L1473.5 1370.4L1477.6 1370.6L1481.5 1369.7L1485.1 1368.8L1488.8 1368.9L1485.0 1368.1L1481.2 1368.4L1477.5 1368.7L1474.2 1368.0L1470.8 1366.3L1467.2 1363.9L1463.0 1362.1L1458.5 1362.7L1455.0 1365.3ZM1455.0 1380.7L1457.7 1380.9L1459.9 1381.3L1462.4 1382.1L1465.1 1383.5L1468.0 1384.8L1471.0 1385.4L1473.9 1384.9L1476.6 1383.3L1479.1 1381.1L1476.3 1382.9L1473.6 1383.9L1471.1 1384.0L1468.7 1383.1L1466.2 1381.6L1463.6 1379.8L1460.6 1378.4L1457.4 1378.5L1454.7 1380.2ZM1458.7 1398.9L1463.0 1400.0L1467.3 1398.6L1470.8 1396.3L1474.0 1395.0L1477.2 1395.1L1480.9 1396.4L1485.0 1397.5L1488.9 1397.2L1492.6 1395.0L1488.8 1396.5L1485.2 1396.2L1481.7 1394.6L1477.9 1392.8L1473.7 1392.0L1469.3 1393.1L1465.3 1395.0L1462.1 1396.9L1458.9 1398.2ZM1462.6 1413.3L1465.5 1413.0L1467.9 1412.4L1470.1 1412.0L1472.3 1412.3L1474.8 1413.2L1477.5 1414.2L1480.2 1414.9L1482.8 1414.9L1485.3 1414.2L1482.8 1414.5L1480.4 1414.1L1478.0 1413.1L1475.6 1411.7L1473.0 1410.4L1470.2 1409.6L1467.3 1409.8L1464.7 1411.0L1462.5 1412.8ZM1453.0 1422.0L1455.6 1422.3L1457.7 1422.9L1460.1 1423.8L1462.8 1425.1L1465.8 1426.2L1468.7 1426.4L1471.6 1425.3L1474.1 1423.5L1476.6 1421.3L1473.8 1423.0L1471.1 1424.4L1468.6 1424.8L1466.4 1424.3L1464.0 1423.0L1461.5 1421.3L1458.6 1419.8L1455.4 1419.7L1452.7 1421.4ZM1456.0 1437.3L1460.7 1439.0L1465.4 1436.3L1468.7 1434.1L1471.7 1435.1L1476.0 1438.4L1480.9 1439.6L1485.1 1437.2L1488.9 1435.1L1493.0 1436.5L1488.9 1434.5L1484.5 1436.2L1480.6 1438.0L1477.3 1436.7L1473.3 1433.0L1468.2 1431.1L1463.2 1433.5L1459.8 1436.3L1456.3 1436.7ZM1454.7 1455.5L1458.6 1455.4L1461.9 1454.6L1464.8 1453.8L1467.7 1453.9L1471.0 1454.9L1474.5 1456.2L1478.1 1457.1L1481.7 1456.9L1485.0 1455.8L1481.6 1456.2L1478.4 1455.7L1475.3 1454.5L1472.0 1452.6L1468.5 1451.0L1464.7 1450.2L1460.7 1450.6L1457.3 1452.4L1454.5 1454.8ZM1458.8 1466.8L1463.6 1465.0L1467.2 1463.5L1470.1 1463.7L1474.2 1465.9L1479.0 1467.5L1483.7 1465.6L1487.7 1461.8L1491.5 1458.9L1495.5 1458.5L1491.3 1458.2L1486.9 1460.9L1482.7 1464.1L1479.2 1465.1L1475.8 1463.4L1471.6 1460.6L1466.4 1459.6L1461.8 1462.4L1458.4 1466.2ZM1453.0 1479.0L1457.1 1478.5L1460.9 1476.9L1464.2 1475.8L1467.4 1476.1L1471.1 1477.8L1474.9 1479.8L1478.8 1480.7L1482.6 1480.2L1486.3 1478.9L1482.5 1479.8L1478.9 1479.9L1475.5 1478.6L1471.9 1476.4L1468.1 1474.3L1464.0 1473.5L1459.9 1474.5L1456.2 1476.5L1453.0 1478.5Z" fill="#f3bf78" opacity="0.55"/>
<path d="M1468.2 1117.2L1471.8 1121.4L1477.1 1125.5L1483.8 1124.4L1488.4 1121.2L1491.6 1120.7L1496.2 1124.5L1501.4 1129.5L1506.7 1130.9L1511.5 1129.6L1506.7 1130.0L1502.4 1128.1L1498.0 1122.9L1493.0 1117.9L1486.7 1117.8L1481.6 1120.4L1478.7 1120.6L1474.5 1118.3L1468.4 1116.3ZM1459.8 1129.4L1464.6 1133.6L1471.5 1133.2L1476.7 1129.3L1480.7 1126.5L1484.4 1126.0L1489.3 1127.4L1494.9 1128.2L1500.2 1125.7L1504.8 1120.6L1499.5 1124.8L1494.8 1126.1L1490.5 1124.5L1485.4 1122.1L1479.2 1121.8L1473.3 1124.6L1468.6 1127.2L1465.5 1128.4L1460.4 1128.3ZM1470.0 1138.4L1474.5 1142.9L1481.2 1140.9L1485.3 1136.5L1487.8 1134.9L1491.4 1135.8L1496.9 1136.8L1501.9 1132.8L1505.9 1126.1L1509.8 1120.6L1505.0 1125.5L1500.3 1131.5L1496.5 1133.9L1493.2 1132.4L1488.0 1130.2L1481.8 1132.2L1477.1 1136.0L1475.0 1137.8L1470.8 1137.5ZM1473.3 1141.0L1476.5 1142.2L1479.3 1143.6L1483.2 1145.1L1487.7 1145.7L1492.1 1144.0L1495.8 1140.3L1499.2 1135.7L1502.5 1131.5L1505.8 1128.2L1501.9 1130.8L1497.9 1134.7L1494.0 1138.7L1490.5 1141.4L1487.6 1141.9L1484.9 1140.9L1481.4 1139.0L1477.0 1138.1L1473.0 1140.1ZM1478.0 1151.2L1483.3 1150.5L1487.8 1148.5L1491.4 1147.8L1495.8 1148.6L1501.0 1148.7L1506.0 1145.5L1510.4 1140.5L1514.7 1136.1L1519.0 1133.6L1514.3 1135.6L1509.4 1139.6L1504.7 1144.1L1500.5 1146.3L1496.6 1145.8L1491.9 1144.3L1486.3 1144.8L1481.7 1147.7L1477.9 1150.5ZM1464.8 1160.8L1471.4 1162.0L1477.4 1161.1L1482.2 1160.5L1487.6 1161.8L1494.0 1163.6L1500.5 1163.6L1506.4 1162.5L1512.1 1162.8L1518.2 1165.3L1512.5 1161.7L1506.3 1160.4L1500.3 1160.6L1494.9 1159.8L1489.5 1157.4L1483.1 1154.9L1476.0 1154.7L1470.1 1157.0L1464.9 1159.6ZM1464.3 1165.7L1470.8 1164.8L1476.5 1162.6L1481.1 1162.3L1486.6 1164.9L1492.9 1167.9L1499.3 1167.9L1505.0 1165.8L1510.6 1165.3L1516.5 1168.4L1510.8 1164.6L1504.7 1164.5L1498.9 1166.0L1493.6 1165.6L1488.3 1162.4L1482.2 1158.9L1475.2 1158.7L1469.3 1161.9L1464.2 1164.9ZM1477.5 1172.5L1482.6 1170.8L1485.2 1171.6L1489.9 1174.5L1496.4 1175.0L1501.5 1170.6L1505.4 1167.0L1509.3 1166.9L1514.2 1168.5L1518.9 1166.2L1514.3 1167.6L1510.0 1165.4L1504.5 1164.7L1499.2 1168.4L1495.0 1171.4L1492.3 1170.6L1487.8 1167.0L1481.1 1166.9L1476.9 1171.7ZM1460.0 1180.8L1466.2 1184.4L1473.5 1182.7L1479.2 1179.5L1484.5 1179.4L1491.0 1181.1L1497.8 1179.0L1503.9 1173.8L1509.7 1170.9L1515.9 1170.7L1509.7 1170.2L1503.1 1172.8L1496.8 1177.5L1491.2 1178.8L1485.3 1176.7L1478.2 1176.3L1471.6 1179.4L1466.5 1181.3L1460.3 1180.2ZM1477.6 1187.6L1481.9 1188.4L1485.9 1189.8L1490.7 1191.2L1495.8 1191.7L1500.9 1190.0L1505.5 1186.8L1509.9 1183.3L1514.2 1180.8L1518.7 1179.4L1514.0 1180.1L1509.1 1182.2L1504.4 1185.3L1499.8 1187.8L1495.7 1188.6L1491.7 1187.7L1487.3 1185.9L1482.1 1185.1L1477.3 1186.9ZM1460.6 1199.9L1467.7 1199.6L1472.6 1198.1L1476.9 1199.9L1483.7 1203.5L1490.7 1202.5L1495.6 1201.9L1501.3 1206.4L1507.6 1211.7L1513.8 1212.7L1508.1 1210.9L1502.7 1205.2L1496.6 1199.4L1489.7 1199.2L1484.8 1199.5L1479.9 1195.9L1472.4 1192.4L1465.5 1195.7L1460.8 1198.8ZM1464.0 1198.3L1469.7 1202.5L1477.2 1203.8L1484.0 1199.9L1489.7 1196.5L1495.3 1196.3L1502.0 1196.6L1508.6 1192.5L1514.6 1185.4L1520.7 1180.0L1514.1 1184.9L1507.6 1191.5L1501.6 1194.6L1495.8 1193.7L1488.8 1193.4L1481.9 1196.8L1476.1 1199.6L1471.1 1199.3L1464.2 1197.5ZM1476.2 1207.8L1481.6 1208.3L1486.2 1209.5L1492.0 1210.6L1498.5 1209.8L1504.3 1206.2L1509.5 1202.2L1514.5 1199.5L1519.9 1197.8L1525.2 1195.0L1519.6 1196.8L1514.0 1197.7L1508.1 1199.9L1502.3 1203.3L1497.2 1205.7L1492.8 1205.6L1487.7 1203.9L1481.3 1203.7L1475.8 1206.8ZM1466.6 1218.7L1472.3 1219.8L1477.8 1218.7L1482.5 1217.1L1487.0 1216.5L1492.1 1216.7L1497.5 1216.6L1502.9 1215.0L1508.0 1211.9L1512.9 1208.2L1507.5 1211.1L1502.3 1213.3L1497.4 1213.9L1492.6 1213.2L1487.3 1212.2L1481.6 1212.1L1476.0 1213.2L1471.2 1215.2L1466.6 1217.6ZM1473.9 1226.2L1479.8 1228.7L1486.2 1227.0L1491.2 1224.2L1495.3 1223.5L1500.2 1226.0L1505.9 1230.5L1511.7 1234.0L1517.5 1234.7L1522.9 1234.1L1517.5 1233.8L1512.4 1232.5L1507.4 1228.7L1502.2 1223.5L1496.3 1219.8L1489.6 1219.9L1483.8 1222.4L1479.3 1224.6L1474.3 1225.3ZM1469.6 1235.2L1475.5 1234.6L1480.0 1233.0L1483.8 1233.2L1489.5 1234.1L1495.4 1231.3L1500.3 1226.2L1504.7 1222.9L1509.5 1221.3L1514.4 1217.7L1509.3 1220.5L1504.1 1221.3L1498.6 1224.5L1493.5 1228.9L1489.5 1230.3L1485.2 1228.9L1479.0 1228.0L1473.5 1231.1L1469.5 1234.2ZM1460.0 1239.4L1467.4 1238.7L1472.8 1238.5L1479.2 1240.0L1487.1 1240.2L1494.1 1236.7L1500.1 1234.4L1506.5 1234.9L1513.6 1234.2L1520.1 1229.9L1513.2 1233.3L1506.9 1233.0L1499.9 1231.6L1492.5 1233.5L1486.1 1235.9L1480.7 1235.1L1473.7 1232.6L1465.7 1234.3L1459.8 1238.3ZM1476.6 1248.0L1482.1 1251.5L1488.9 1249.9L1493.8 1246.7L1497.8 1245.9L1503.1 1247.0L1509.3 1246.2L1514.8 1241.7L1519.7 1236.7L1524.8 1234.1L1519.2 1235.9L1513.5 1240.4L1508.3 1243.8L1503.9 1243.7L1498.5 1241.8L1491.9 1242.3L1486.1 1245.1L1482.2 1247.0L1477.1 1247.1ZM1457.5 1251.3L1463.6 1254.5L1471.5 1256.7L1479.6 1254.0L1486.0 1250.6L1492.2 1249.7L1499.6 1248.8L1506.9 1244.1L1513.5 1237.8L1520.1 1233.6L1512.8 1237.0L1505.5 1242.5L1498.8 1245.9L1492.4 1245.8L1484.6 1246.1L1477.1 1249.0L1471.3 1250.3L1465.2 1249.6L1457.5 1250.1ZM1471.3 1261.5L1477.0 1266.1L1484.3 1268.7L1491.7 1266.5L1497.5 1263.9L1503.0 1264.5L1509.4 1268.6L1516.3 1272.2L1523.0 1272.2L1529.4 1271.2L1522.9 1271.4L1516.8 1270.7L1510.8 1266.7L1504.3 1261.8L1496.9 1260.2L1489.9 1262.5L1484.4 1263.7L1478.8 1262.5L1471.6 1260.6ZM1474.9 1272.0L1481.0 1273.8L1486.9 1272.3L1491.4 1271.9L1496.8 1274.3L1503.2 1275.9L1508.9 1275.0L1514.2 1275.7L1519.9 1279.6L1525.8 1282.8L1520.3 1279.0L1514.8 1274.5L1508.7 1273.0L1503.2 1273.4L1498.3 1271.6L1492.4 1268.5L1485.7 1268.3L1480.3 1270.6L1475.1 1271.3ZM1465.2 1272.8L1470.4 1277.3L1478.1 1280.9L1484.9 1276.5L1489.5 1275.7L1495.7 1281.2L1503.1 1282.7L1509.1 1279.6L1515.0 1282.9L1521.6 1290.0L1515.6 1282.5L1508.9 1278.4L1502.4 1281.0L1497.3 1279.4L1491.0 1273.2L1483.0 1273.7L1477.3 1277.0L1472.5 1275.0L1465.2 1272.1ZM1466.6 1287.9L1473.2 1287.2L1479.2 1284.5L1484.3 1283.1L1489.9 1284.2L1496.2 1285.5L1502.6 1283.6L1508.5 1278.7L1514.2 1273.6L1520.0 1270.9L1513.9 1273.1L1507.7 1277.8L1501.7 1282.1L1496.3 1283.2L1490.8 1281.5L1484.4 1279.8L1477.7 1281.0L1471.8 1284.5L1466.6 1287.2ZM1471.1 1291.2L1476.8 1290.6L1481.5 1290.7L1486.6 1291.6L1492.5 1292.3L1498.6 1290.6L1504.0 1286.5L1509.2 1281.7L1514.4 1277.9L1519.6 1275.3L1514.0 1277.2L1508.3 1280.5L1502.7 1284.9L1497.4 1288.1L1492.6 1288.9L1487.6 1287.8L1482.0 1286.3L1475.9 1287.1L1470.8 1290.4ZM1461.6 1301.3L1469.5 1299.3L1475.9 1298.4L1482.9 1300.5L1491.4 1300.1L1498.9 1294.9L1505.5 1291.8L1512.8 1291.8L1520.3 1288.7L1527.4 1281.0L1519.9 1288.1L1512.8 1290.4L1505.3 1289.8L1497.4 1292.9L1490.2 1297.2L1484.0 1297.0L1476.5 1294.3L1468.1 1296.3L1461.4 1300.5ZM1474.6 1307.7L1481.0 1306.5L1486.1 1308.1L1493.6 1309.6L1500.7 1305.8L1506.4 1302.0L1512.2 1301.8L1519.0 1300.0L1525.2 1293.4L1531.2 1287.4L1524.6 1292.8L1518.2 1298.8L1512.4 1299.7L1505.6 1299.3L1498.6 1303.0L1493.1 1305.7L1488.0 1303.9L1480.5 1302.8L1474.2 1307.0ZM1465.3 1311.1L1471.4 1312.1L1477.7 1316.1L1485.7 1318.7L1493.3 1316.6L1499.5 1314.7L1505.8 1317.2L1512.9 1323.0L1520.2 1326.1L1527.2 1325.8L1520.3 1325.3L1513.8 1321.8L1507.2 1315.5L1499.7 1311.8L1492.0 1313.3L1485.9 1314.5L1480.1 1312.0L1472.6 1308.6L1464.9 1310.3ZM1462.0 1323.9L1469.2 1327.2L1477.2 1325.9L1483.7 1324.0L1490.0 1325.5L1497.4 1329.2L1505.1 1330.4L1512.2 1329.5L1519.2 1331.4L1526.6 1337.0L1519.6 1330.8L1512.3 1328.1L1505.1 1328.4L1498.4 1326.9L1491.5 1322.7L1483.5 1320.3L1475.7 1322.0L1469.3 1323.8L1462.3 1323.2ZM1456.4 1331.3L1465.3 1332.8L1473.9 1328.6L1480.8 1327.1L1488.9 1329.9L1498.1 1329.2L1506.4 1322.8L1514.1 1318.5L1522.1 1318.9L1530.4 1316.5L1522.2 1318.2L1513.9 1317.2L1505.2 1321.3L1497.0 1327.0L1489.9 1327.0L1481.5 1323.6L1472.0 1324.9L1464.2 1329.7L1456.7 1330.6ZM1470.0 1338.9L1476.3 1339.4L1482.3 1337.2L1487.3 1335.8L1492.7 1336.4L1499.0 1336.5L1505.1 1333.2L1510.7 1328.3L1516.1 1324.9L1521.8 1323.1L1515.9 1324.3L1509.9 1327.3L1504.0 1331.8L1498.6 1334.2L1493.4 1333.6L1487.3 1332.4L1480.8 1333.6L1475.3 1336.5L1470.1 1338.1ZM1472.0 1344.5L1477.5 1344.5L1481.1 1345.1L1485.6 1346.8L1491.0 1349.8L1496.9 1352.0L1502.5 1352.2L1507.5 1352.0L1512.5 1353.3L1518.0 1357.6L1513.1 1352.3L1507.8 1349.8L1502.6 1349.1L1498.0 1348.1L1493.6 1345.6L1488.7 1341.9L1482.8 1338.7L1476.2 1339.3L1471.4 1343.4ZM1474.5 1352.7L1481.1 1354.8L1487.8 1351.6L1492.7 1348.4L1497.2 1348.5L1503.1 1351.2L1509.8 1351.8L1515.9 1347.6L1521.4 1342.3L1527.0 1339.9L1520.9 1341.6L1514.8 1346.4L1509.2 1349.5L1504.4 1348.4L1498.7 1345.0L1491.5 1344.1L1484.8 1347.4L1479.9 1350.9L1474.9 1351.9ZM1476.1 1357.5L1479.6 1360.4L1484.4 1364.6L1491.4 1365.5L1496.8 1362.7L1500.4 1361.4L1504.6 1363.7L1509.9 1368.7L1515.4 1371.2L1520.5 1370.5L1515.6 1370.1L1511.3 1367.2L1506.7 1361.7L1501.1 1357.7L1494.7 1358.6L1490.3 1360.2L1487.4 1359.2L1482.3 1356.4L1475.9 1356.3ZM1471.7 1364.3L1475.6 1368.0L1480.6 1372.4L1487.1 1373.5L1492.6 1371.2L1496.8 1369.7L1501.1 1371.6L1506.2 1377.6L1511.6 1384.0L1516.9 1387.4L1512.2 1383.4L1507.5 1376.8L1502.6 1370.0L1496.9 1366.8L1491.1 1368.1L1486.6 1369.4L1483.0 1368.3L1478.0 1365.1L1471.9 1363.4ZM1474.9 1378.8L1480.8 1378.9L1485.7 1377.3L1489.0 1376.4L1493.4 1377.3L1498.9 1378.4L1504.6 1376.8L1509.4 1373.0L1513.9 1369.6L1518.5 1368.2L1513.4 1368.6L1508.2 1371.3L1503.3 1374.1L1499.3 1374.5L1495.1 1372.8L1489.7 1370.8L1483.4 1371.2L1478.5 1374.3L1474.8 1377.6ZM1475.0 1382.1L1480.3 1383.7L1485.9 1382.4L1490.6 1379.8L1495.0 1378.4L1499.5 1378.4L1504.6 1379.2L1509.9 1378.5L1514.8 1375.6L1519.6 1371.2L1514.4 1375.0L1509.5 1377.2L1504.9 1377.2L1500.0 1375.9L1494.7 1375.2L1489.2 1376.4L1484.1 1378.5L1479.8 1380.4L1475.2 1381.3ZM1471.8 1390.6L1478.0 1393.3L1484.7 1392.3L1490.3 1390.2L1495.3 1390.5L1501.1 1393.8L1507.4 1398.3L1513.8 1401.0L1519.9 1401.9L1526.0 1403.9L1520.0 1401.1L1514.2 1399.6L1508.5 1396.6L1502.8 1391.7L1496.5 1387.4L1489.6 1386.4L1483.2 1388.1L1477.9 1389.7L1472.1 1389.9ZM1462.5 1399.9L1470.2 1397.2L1475.7 1395.5L1481.5 1397.9L1489.6 1399.9L1497.1 1395.1L1503.3 1390.0L1509.3 1389.8L1516.4 1390.7L1523.1 1385.7L1516.2 1389.9L1509.8 1388.3L1502.4 1387.9L1495.1 1392.9L1489.1 1396.3L1483.7 1394.2L1476.1 1390.6L1468.0 1393.9L1462.3 1399.0ZM1475.7 1408.5L1480.6 1409.6L1485.5 1407.6L1489.3 1404.6L1492.7 1402.6L1496.2 1401.7L1500.4 1401.2L1504.8 1399.3L1508.8 1395.0L1512.5 1388.4L1508.1 1394.4L1503.9 1397.8L1500.1 1398.7L1496.1 1398.5L1491.5 1398.8L1486.8 1400.7L1482.5 1403.2L1479.2 1405.6L1475.9 1407.5ZM1469.5 1410.9L1474.0 1411.1L1477.6 1411.7L1481.7 1412.4L1486.5 1413.1L1491.5 1412.3L1496.1 1409.4L1500.3 1405.1L1504.4 1400.6L1508.4 1396.9L1503.8 1399.9L1499.1 1403.9L1494.6 1407.4L1490.6 1409.3L1486.9 1409.3L1483.0 1408.0L1478.4 1406.5L1473.3 1407.0L1469.1 1410.0ZM1457.4 1423.3L1465.2 1421.7L1470.5 1419.7L1475.6 1422.1L1483.0 1426.9L1490.8 1425.8L1496.5 1424.1L1502.6 1428.5L1509.5 1435.7L1516.4 1437.9L1510.1 1435.0L1503.9 1427.4L1497.0 1421.7L1489.6 1422.9L1484.3 1423.2L1478.6 1418.7L1470.5 1414.4L1462.8 1418.3L1457.5 1422.3ZM1475.7 1426.2L1480.8 1429.0L1486.8 1428.8L1491.8 1427.1L1496.1 1427.0L1501.0 1429.3L1506.5 1432.4L1512.1 1433.9L1517.3 1434.3L1522.6 1436.0L1517.5 1433.5L1512.3 1432.5L1507.5 1430.5L1502.6 1427.0L1497.1 1423.8L1491.0 1423.2L1485.6 1424.4L1481.2 1425.4L1476.0 1425.4ZM1477.7 1437.5L1481.8 1437.0L1485.1 1435.3L1487.4 1433.7L1489.5 1433.1L1492.2 1433.3L1495.4 1433.9L1499.0 1433.5L1502.1 1431.4L1504.8 1427.5L1501.5 1430.6L1498.5 1431.8L1496.0 1431.3L1493.2 1430.1L1489.8 1428.9L1485.8 1429.1L1482.0 1430.7L1479.2 1433.4L1477.3 1436.5ZM1471.8 1440.1L1475.0 1443.6L1479.2 1445.3L1483.7 1444.7L1487.4 1443.5L1490.7 1442.6L1493.9 1442.9L1497.5 1445.1L1501.5 1449.3L1505.6 1454.8L1502.3 1448.7L1498.8 1443.8L1495.0 1440.5L1490.7 1439.2L1486.5 1439.4L1482.9 1439.9L1479.8 1439.6L1476.6 1439.4L1472.3 1439.2ZM1469.4 1448.2L1473.2 1452.0L1478.2 1455.0L1484.2 1454.1L1489.1 1450.2L1493.4 1446.0L1497.4 1443.8L1501.7 1443.5L1506.4 1443.5L1511.0 1441.1L1506.3 1442.8L1501.9 1442.1L1497.0 1441.7L1491.8 1443.9L1486.9 1447.7L1482.5 1450.5L1479.3 1450.6L1475.1 1449.0L1469.7 1447.4ZM1473.8 1454.5L1477.4 1458.1L1482.2 1462.4L1488.6 1462.5L1493.4 1459.5L1497.0 1458.4L1501.2 1461.5L1506.2 1467.3L1511.3 1470.5L1516.1 1470.2L1511.5 1469.8L1507.3 1466.3L1502.8 1460.2L1497.7 1455.8L1491.8 1456.6L1487.3 1459.0L1484.2 1458.5L1479.7 1455.5L1473.9 1453.7ZM1475.7 1462.9L1479.3 1463.7L1482.3 1463.2L1484.9 1462.0L1487.5 1460.9L1490.2 1460.1L1493.0 1459.3L1495.9 1458.2L1498.8 1456.6L1501.4 1454.1L1498.3 1455.6L1495.4 1456.3L1492.6 1456.4L1489.7 1456.4L1486.6 1456.5L1483.4 1456.9L1480.3 1457.5L1477.6 1459.1L1475.4 1461.8ZM1464.7 1467.2L1468.8 1471.0L1474.5 1473.9L1480.8 1472.3L1485.8 1468.5L1489.9 1466.4L1494.3 1467.0L1499.6 1468.3L1504.9 1466.5L1509.7 1461.6L1504.5 1465.8L1499.8 1466.7L1495.2 1464.8L1489.6 1463.5L1483.8 1465.5L1478.8 1468.6L1475.2 1469.1L1470.9 1467.7L1465.0 1466.4ZM1469.9 1477.6L1472.4 1480.2L1475.7 1482.8L1480.7 1483.4L1485.2 1480.7L1488.6 1476.4L1491.7 1472.5L1494.6 1470.1L1497.9 1468.5L1501.2 1466.0L1497.6 1467.6L1493.9 1468.4L1489.9 1470.6L1486.0 1474.3L1482.5 1477.6L1480.0 1478.6L1478.1 1477.8L1474.5 1476.3L1470.0 1476.6ZM1466.4 1486.9L1469.1 1489.9L1472.5 1492.0L1476.6 1492.4L1480.5 1491.2L1483.9 1488.7L1487.1 1485.4L1490.2 1482.0L1493.3 1478.9L1496.4 1476.6L1492.9 1478.4L1489.3 1481.0L1485.8 1484.0L1482.4 1486.7L1479.2 1488.4L1476.5 1488.8L1473.9 1488.1L1470.7 1487.0L1466.8 1486.3Z" fill="#e88f74" opacity="0.62"/>
</g>
<!-- arrows -->
<path d="M1241.6 1242.6L1231.9 1239.4L1223.1 1235.1L1215.0 1229.8L1207.8 1223.5L1201.4 1216.0L1195.7 1207.2L1191.0 1197.2L1187.1 1185.9L1184.2 1173.3L1182.3 1159.5L1180.5 1144.4L1179.4 1128.0L1176.6 1144.3L1175.1 1159.8L1175.6 1174.4L1177.2 1188.1L1180.0 1200.9L1184.0 1212.8L1189.1 1223.8L1195.6 1233.8L1203.4 1242.9L1212.5 1250.9L1222.8 1257.7L1234.4 1263.4L1221.9 1245.6Z" fill="url(#ga0)"/><path d="M1162.0 1152.5L1179.4 1128.0L1178.5 1154.9Z" fill="#f0302a"/>
<path d="M1271.6 1202.2L1262.9 1200.5L1254.8 1198.3L1247.3 1195.5L1240.5 1192.1L1234.3 1188.2L1228.6 1183.7L1223.4 1178.5L1218.8 1172.7L1214.8 1166.2L1211.4 1159.0L1208.0 1151.1L1205.0 1142.5L1205.2 1151.8L1206.4 1160.6L1208.9 1168.8L1212.3 1176.6L1216.4 1183.9L1221.4 1190.6L1227.3 1196.7L1234.0 1202.2L1241.4 1207.1L1249.7 1211.3L1258.7 1214.9L1268.4 1217.8L1255.9 1206.1Z" fill="url(#ga1)"/><path d="M1199.4 1161.0L1205.0 1142.5L1208.1 1157.2Z" fill="#f0302a"/>
<path d="M1234.1 1347.7L1224.0 1355.7L1214.9 1364.4L1206.8 1373.7L1199.8 1383.6L1193.9 1394.1L1189.1 1405.2L1185.2 1416.8L1182.4 1428.9L1180.6 1441.5L1179.7 1454.7L1180.8 1468.4L1183.0 1482.5L1184.7 1468.4L1187.0 1455.3L1189.2 1442.9L1192.3 1431.3L1196.2 1420.5L1200.9 1410.6L1206.5 1401.4L1212.8 1393.0L1219.9 1385.3L1227.8 1378.3L1236.4 1372.0L1245.9 1366.3L1225.1 1367.9Z" fill="url(#ga2)"/><path d="M1166.0 1458.7L1183.0 1482.5L1183.0 1459.2Z" fill="#f0302a"/>
<path d="M1272.9 1392.1L1263.1 1394.3L1254.0 1397.4L1245.6 1401.3L1238.1 1405.9L1231.3 1411.4L1225.4 1417.5L1220.3 1424.5L1216.1 1432.0L1212.8 1440.2L1210.2 1449.0L1209.0 1458.6L1208.7 1468.7L1211.7 1459.2L1215.2 1450.6L1218.7 1442.8L1222.8 1435.8L1227.4 1429.7L1232.6 1424.4L1238.2 1419.9L1244.4 1416.1L1251.1 1413.0L1258.5 1410.7L1266.4 1409.0L1275.1 1407.9L1259.9 1402.9Z" fill="url(#ga3)"/><path d="M1203.7 1451.0L1208.7 1468.7L1211.9 1452.6Z" fill="#f0302a"/>
<path d="M1380.0 1133.2L1380.1 1145.6L1381.2 1158.1L1383.4 1170.7L1386.6 1183.2L1390.9 1195.8L1396.2 1208.4L1402.6 1221.0L1410.0 1233.7L1418.3 1246.3L1427.7 1259.1L1439.7 1270.5L1453.0 1281.6L1445.0 1266.4L1437.7 1252.0L1429.7 1239.1L1422.7 1226.4L1416.7 1214.0L1411.8 1201.9L1407.8 1190.0L1404.7 1178.5L1402.6 1167.2L1401.4 1156.1L1401.2 1145.3L1402.0 1134.8L1390.9 1152.0Z" fill="url(#ga4)"/><path d="M1445.5 1249.0L1453.0 1281.6L1435.7 1259.7Z" fill="#f0302a"/>
<path d="M1328.0 1170.7L1329.8 1181.0L1332.5 1190.9L1336.2 1200.4L1340.9 1209.4L1346.5 1217.9L1353.0 1226.0L1360.5 1233.5L1368.9 1240.5L1378.1 1247.1L1388.1 1253.2L1399.6 1257.8L1412.0 1261.6L1401.8 1253.9L1392.5 1246.2L1383.7 1239.5L1375.8 1232.5L1368.9 1225.2L1363.0 1217.8L1358.0 1210.3L1353.8 1202.5L1350.6 1194.6L1348.2 1186.4L1346.7 1178.0L1346.0 1169.3L1339.3 1184.7Z" fill="url(#ga5)"/><path d="M1400.0 1241.0L1412.0 1261.6L1393.6 1251.7Z" fill="#f0302a"/>
<path d="M1339.9 1442.6L1341.7 1432.0L1344.2 1422.0L1347.3 1412.5L1351.0 1403.5L1355.3 1395.0L1360.2 1386.9L1365.7 1379.3L1371.8 1372.1L1378.6 1365.3L1386.1 1359.1L1393.7 1352.1L1402.0 1345.3L1391.5 1348.3L1381.5 1352.2L1372.7 1358.0L1364.4 1364.4L1356.8 1371.5L1349.8 1379.2L1343.5 1387.7L1337.9 1396.8L1333.0 1406.6L1328.7 1416.9L1325.1 1427.8L1322.1 1439.4L1335.0 1424.0Z" fill="url(#ga6)"/><path d="M1391.0 1366.0L1402.0 1345.3L1386.5 1353.8Z" fill="#f0302a"/>
<path d="M1400.9 1460.9L1399.6 1446.7L1399.2 1432.9L1399.8 1419.6L1401.3 1406.7L1403.8 1394.2L1407.3 1382.0L1411.7 1370.2L1417.0 1358.7L1423.4 1347.5L1430.8 1336.6L1437.7 1324.6L1445.5 1312.3L1432.8 1320.0L1421.3 1328.9L1412.3 1339.9L1404.3 1351.4L1397.4 1363.5L1391.4 1376.1L1386.7 1389.4L1383.0 1403.2L1380.4 1417.4L1378.9 1432.2L1378.4 1447.4L1379.1 1463.1L1388.9 1438.9Z" fill="url(#ga7)"/><path d="M1437.0 1344.0L1445.5 1312.3L1428.9 1329.4Z" fill="#f0302a"/>
<path d="M1402 1289L1424 1293L1458 1293L1453.5 1285.5L1490 1298.8L1454.5 1316L1458.5 1305.5L1424 1305.5L1405 1312.5L1420 1300.8Z" fill="url(#gam)"/>
<text class="vt" transform="translate(1297.5 0) scale(1.17 1) translate(-1297.5 0)"><tspan x="1297" y="1149.2">B</tspan><tspan x="1297" y="1191.2">O</tspan><tspan x="1297" y="1233.2">D</tspan><tspan x="1297" y="1274.2">Y</tspan><tspan x="1297" y="1312" font-size="20"> </tspan><tspan x="1297" y="1354.2">H</tspan><tspan x="1297" y="1393.5">E</tspan><tspan x="1297" y="1436.3">A</tspan><tspan x="1297" y="1477.2">T</tspan></text>

</svg>
</body>
</html>
